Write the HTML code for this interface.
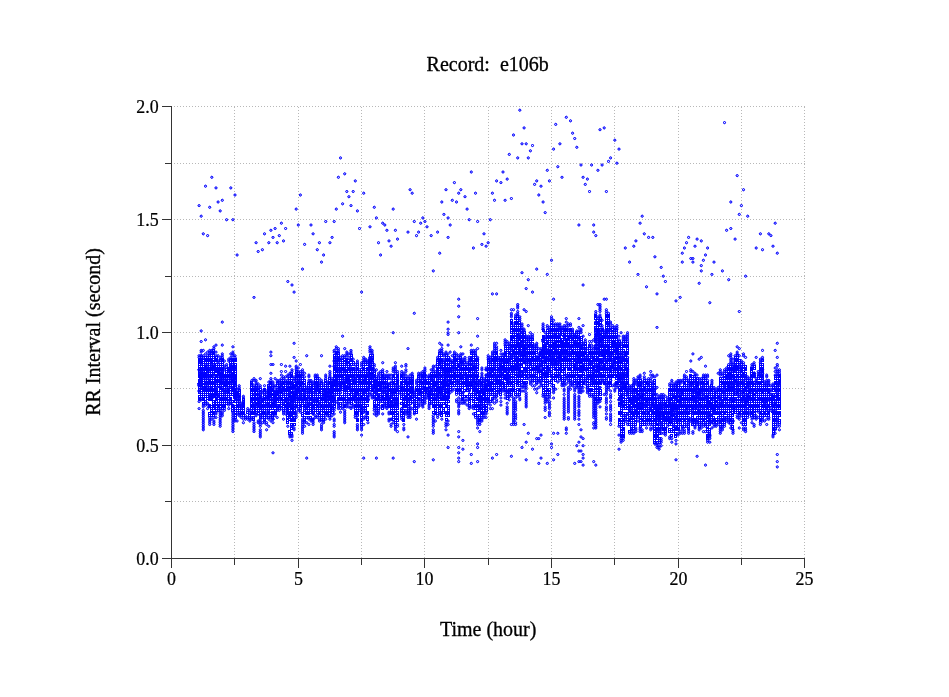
<!DOCTYPE html>
<html lang="en"><head><meta charset="utf-8"><title>Record: e106b</title>
<style>
html,body{margin:0;padding:0;background:#fff}
svg{display:block}
text{font-family:"Liberation Serif",serif;fill:#000}
</style></head><body>
<svg width="949" height="697" viewBox="0 0 949 697">
<defs><marker id="m" markerWidth="4" markerHeight="4" refX="2" refY="2" markerUnits="userSpaceOnUse" viewBox="0 0 4 4"><circle cx="2" cy="2" r="1.05" fill="none" stroke="#00f" stroke-width="0.7"/><circle cx="2" cy="2" r="1.05" fill="none" stroke="#00f" stroke-width="0.7"/></marker><marker id="k" markerWidth="4" markerHeight="4" refX="2" refY="2" markerUnits="userSpaceOnUse" viewBox="0 0 4 4"><circle cx="2" cy="2" r="1.05" fill="none" stroke="#00f" stroke-width="0.7"/><circle cx="2" cy="2" r="1.05" fill="none" stroke="#00f" stroke-width="0.7"/><circle cx="2" cy="2" r="1.05" fill="none" stroke="#00f" stroke-width="0.7"/><circle cx="2" cy="2" r="1.05" fill="none" stroke="#00f" stroke-width="0.7"/></marker><marker id="f" markerWidth="4" markerHeight="4" refX="2" refY="2" markerUnits="userSpaceOnUse" viewBox="0 0 4 4"><circle cx="2" cy="2" r="1.05" fill="none" stroke="#00f" stroke-width="0.7"/><circle cx="2" cy="2" r="1.05" fill="none" stroke="#00f" stroke-width="0.7"/><circle cx="2" cy="2" r="1.05" fill="none" stroke="#00f" stroke-width="0.7"/><circle cx="2" cy="2" r="1.05" fill="none" stroke="#00f" stroke-width="0.7"/><circle cx="2" cy="2" r="1.05" fill="none" stroke="#00f" stroke-width="0.7"/><circle cx="2" cy="2" r="1.05" fill="none" stroke="#00f" stroke-width="0.7"/><circle cx="2" cy="2" r="1.05" fill="none" stroke="#00f" stroke-width="0.7"/><circle cx="2" cy="2" r="1.05" fill="none" stroke="#00f" stroke-width="0.7"/><circle cx="2" cy="2" r="1.05" fill="none" stroke="#00f" stroke-width="0.7"/><circle cx="2" cy="2" r="1.05" fill="none" stroke="#00f" stroke-width="0.7"/></marker><marker id="c" markerWidth="4" markerHeight="4" refX="2" refY="2" markerUnits="userSpaceOnUse" viewBox="0 0 4 4"><path d="M1 1h2v2h-2z" fill="none" stroke="#00f" stroke-width="1" shape-rendering="crispEdges"/></marker></defs>
<rect width="949" height="697" fill="#fff"/>
<g stroke="#b8b8b8" stroke-width="1" stroke-dasharray="1 2" shape-rendering="crispEdges" fill="none">
<path d="M174 106.5H805"/><path d="M174 163.5H805"/><path d="M174 219.5H805"/><path d="M174 276.5H805"/><path d="M174 332.5H805"/><path d="M174 388.5H805"/><path d="M174 445.5H805"/><path d="M174 501.5H805"/><path d="M234.5 107V558"/><path d="M298.5 107V558"/><path d="M361.5 107V558"/><path d="M424.5 107V558"/><path d="M488.5 107V558"/><path d="M551.5 107V558"/><path d="M614.5 107V558"/><path d="M678.5 107V558"/><path d="M741.5 107V558"/><path d="M804.5 107V558"/>
</g>
<g stroke="#343434" stroke-width="1" shape-rendering="crispEdges" fill="none">
<path d="M171.5 106V559M171 558.5H805"/><path d="M162 558.5H172"/><path d="M165 501.5H172"/><path d="M162 445.5H172"/><path d="M165 388.5H172"/><path d="M162 332.5H172"/><path d="M165 276.5H172"/><path d="M162 219.5H172"/><path d="M165 163.5H172"/><path d="M162 106.5H172"/><path d="M171.5 558V568"/><path d="M234.5 558V565"/><path d="M298.5 558V568"/><path d="M361.5 558V565"/><path d="M424.5 558V568"/><path d="M488.5 558V565"/><path d="M551.5 558V568"/><path d="M614.5 558V565"/><path d="M678.5 558V568"/><path d="M741.5 558V565"/><path d="M804.5 558V568"/>
</g>
<g font-size="20" stroke="#000" stroke-width="0.3">
<text x="487.7" y="70.8" text-anchor="middle" xml:space="preserve">Record:  e106b</text>
<text x="488.2" y="635.8" text-anchor="middle">Time (hour)</text>
<text transform="translate(100.1 332) rotate(-90)" text-anchor="middle">RR Interval (second)</text>
</g>
<g font-size="17.9" stroke="#000" stroke-width="0.22">
<text x="158.6" y="565.1" text-anchor="end">0.0</text><text x="158.6" y="452.1" text-anchor="end">0.5</text><text x="158.6" y="339.1" text-anchor="end">1.0</text><text x="158.6" y="226.1" text-anchor="end">1.5</text><text x="158.6" y="113.1" text-anchor="end">2.0</text><text x="171.5" y="585" text-anchor="middle">0</text><text x="298.5" y="585" text-anchor="middle">5</text><text x="424.5" y="585" text-anchor="middle">10</text><text x="551.5" y="585" text-anchor="middle">15</text><text x="678.5" y="585" text-anchor="middle">20</text><text x="804.5" y="585" text-anchor="middle">25</text>
</g>
<g fill="none" stroke="none">
<polyline marker-start="url(#f)" marker-mid="url(#f)" marker-end="url(#f)" points="199.1,383.9 201.2,385.7 201.2,382.1 201.2,380.4 201.2,378.6 201.2,376.8 201.2,373.3 201.2,362.7 203.3,389.2 203.3,375.1 205.5,389.2 205.5,387.4 205.5,380.4 205.5,375.1 205.5,368 207.6,387.4 207.6,369.8 209.7,398 209.7,396.3 209.7,382.1 211.8,398 211.8,396.3 211.8,394.5 211.8,389.2 211.8,361 213.9,394.5 213.9,368 216,394.5 216,391 216,380.4 218.1,371.5 220.2,387.4 220.2,380.4 220.2,373.3 222.3,378.6 222.3,375.1 222.3,369.8 224.4,383.9 224.4,380.4 226.6,387.4 226.6,382.1 228.7,391 228.7,371.5 230.8,376.8 230.8,366.2 232.9,389.2 232.9,380.4 232.9,375.1 232.9,368 235,398 235,396.3 235,394.5 235,391 235,383.9 235,382.1 235,378.6 235,368 237.1,394.5 237.1,392.7 239.2,396.3 243.4,405.1 243.4,403.3 251.9,399.8 254,405.1 258.2,403.3 258.2,394.5 260.3,401.6 262.4,399.8 268.8,405.1 268.8,398 268.8,396.3 268.8,394.5 268.8,392.7 268.8,391 268.8,387.4 270.9,394.5 273,405.1 273,403.3 275.1,401.6 275.1,396.3 277.2,394.5 277.2,392.7 279.3,389.2 281.4,391 281.4,387.4 283.5,401.6 283.5,389.2 285.6,399.8 287.8,412.2 287.8,406.9 287.8,403.3 287.8,387.4 289.9,415.7 289.9,396.3 289.9,387.4 292,408.6 292,401.6 292,392.7 292,387.4 292,383.9 294.1,396.3 294.1,394.5 294.1,387.4 296.2,394.5 296.2,392.7 296.2,385.7 298.3,389.2 300.4,396.3 300.4,383.9 300.4,380.4 304.6,398 304.6,392.7 311,389.2 317.3,399.8 317.3,387.4 317.3,385.7 319.4,391 321.5,394.5 323.6,396.3 323.6,392.7 325.7,399.8 325.7,396.3 325.7,392.7 327.8,396.3 327.8,392.7 329.9,405.1 329.9,396.3 329.9,392.7 329.9,391 332.1,398 332.1,392.7 332.1,389.2 332.1,385.7 334.2,383.9 334.2,382.1 336.3,385.7 336.3,382.1 336.3,376.8 336.3,369.8 336.3,357.4 338.4,371.5 338.4,359.2 340.5,389.2 340.5,383.9 340.5,371.5 340.5,369.8 342.6,380.4 344.7,385.7 344.7,371.5 346.8,387.4 346.8,382.1 346.8,378.6 346.8,362.7 348.9,387.4 348.9,380.4 355.3,396.3 355.3,391 355.3,380.4 357.4,392.7 357.4,391 359.5,376.8 361.6,408.6 361.6,406.9 361.6,398 363.7,392.7 363.7,382.1 365.8,382.1 365.8,376.8 367.9,399.8 370,375.1 370,366.2 370,362.7 370,361 370,359.2 372.1,375.1 372.1,373.3 372.1,359.2 374.3,387.4 374.3,385.7 374.3,382.1 376.4,392.7 376.4,387.4 376.4,385.7 376.4,382.1 378.5,398 378.5,396.3 378.5,383.9 380.6,387.4 380.6,385.7 382.7,398 382.7,378.6 384.8,387.4 386.9,396.3 386.9,394.5 391.1,391 393.2,391 395.4,403.3 395.4,391 397.5,403.3 397.5,385.7 397.5,382.1 397.5,380.4 401.7,389.2 401.7,387.4 403.8,405.1 405.9,398 405.9,382.1 408,399.8 408,394.5 410.1,398 410.1,391 410.1,382.1 412.2,392.7 412.2,387.4 412.2,382.1 418.6,392.7 420.7,392.7 424.9,387.4 424.9,382.1 424.9,375.1 429.1,396.3 429.1,394.5 429.1,387.4 431.2,376.8 433.3,394.5 433.3,383.9 433.3,380.4 435.4,394.5 435.4,383.9 437.6,392.7 437.6,389.2 437.6,387.4 437.6,378.6 437.6,373.3 439.7,394.5 439.7,391 439.7,389.2 439.7,362.7 441.8,391 441.8,387.4 443.9,396.3 443.9,383.9 443.9,380.4 443.9,369.8 446,382.1 446,376.8 448.1,398 448.1,396.3 448.1,392.7 448.1,391 448.1,385.7 448.1,371.5 450.2,380.4 450.2,369.8 454.4,376.8 454.4,375.1 454.4,371.5 454.4,362.7 454.4,359.2 458.7,366.2 460.8,378.6 460.8,375.1 460.8,362.7 460.8,361 467.1,385.7 467.1,382.1 467.1,376.8 469.2,383.9 469.2,369.8 471.3,383.9 471.3,364.5 471.3,359.2 473.4,385.7 473.4,380.4 473.4,368 473.4,364.5 475.5,392.7 475.5,385.7 475.5,378.6 475.5,371.5 477.6,391 477.6,380.4 477.6,376.8 479.8,408.6 479.8,398 479.8,392.7 481.9,399.8 481.9,398 484,394.5 484,392.7 484,389.2 486.1,389.2 486.1,385.7 488.2,383.9 490.3,385.7 490.3,373.3 492.4,369.8 494.5,378.6 494.5,359.2 496.6,382.1 496.6,359.2 498.7,382.1 498.7,371.5 500.9,383.9 500.9,382.1 500.9,366.2 503,368 505.1,376.8 505.1,371.5 505.1,361 505.1,353.9 507.2,380.4 507.2,378.6 507.2,375.1 507.2,361 509.3,376.8 509.3,369.8 511.4,369.8 511.4,368 511.4,357.4 511.4,348.6 511.4,338 513.5,368 513.5,357.4 513.5,352.1 515.6,366.2 515.6,357.4 515.6,346.8 517.7,368 517.7,366.2 517.7,361 517.7,345.1 517.7,336.2 517.7,334.5 519.8,371.5 519.8,364.5 519.8,352.1 519.8,346.8 519.8,345.1 519.8,338 522,341.5 524.1,355.7 524.1,352.1 524.1,346.8 526.2,369.8 526.2,348.6 530.4,362.7 532.5,364.5 532.5,359.2 532.5,350.4 536.7,368 536.7,357.4 538.8,371.5 543.1,357.4 543.1,353.9 543.1,350.4 543.1,339.8 545.2,373.3 545.2,361 545.2,357.4 545.2,348.6 547.3,375.1 547.3,373.3 547.3,368 547.3,350.4 547.3,343.3 549.4,357.4 549.4,353.9 549.4,352.1 551.5,362.7 551.5,357.4 551.5,352.1 553.6,364.5 553.6,362.7 553.6,355.7 553.6,346.8 553.6,345.1 553.6,341.5 555.7,364.5 555.7,361 555.7,352.1 555.7,350.4 555.7,345.1 555.7,341.5 555.7,336.2 557.8,357.4 557.8,341.5 559.9,355.7 562,346.8 562,345.1 562,341.5 564.2,359.2 564.2,352.1 564.2,350.4 564.2,345.1 564.2,336.2 566.3,357.4 566.3,352.1 566.3,345.1 566.3,339.8 568.4,345.1 568.4,338 570.5,334.5 572.6,352.1 574.7,368 574.7,366.2 574.7,343.3 576.8,362.7 576.8,353.9 576.8,345.1 576.8,343.3 578.9,357.4 578.9,353.9 578.9,345.1 581,369.8 581,368 581,362.7 581,348.6 581,346.8 583.1,369.8 583.1,366.2 583.1,355.7 583.1,353.9 585.3,348.6 587.4,357.4 589.5,362.7 591.6,376.8 591.6,371.5 591.6,362.7 593.7,380.4 593.7,375.1 593.7,368 593.7,359.2 595.8,371.5 595.8,348.6 595.8,339.8 595.8,334.5 597.9,371.5 597.9,368 597.9,366.2 597.9,359.2 597.9,332.7 597.9,330.9 600,362.7 600,341.5 600,339.8 600,338 600,334.5 602.1,353.9 602.1,352.1 602.1,339.8 604.2,366.2 604.2,355.7 604.2,350.4 606.4,352.1 606.4,334.5 606.4,330.9 608.5,352.1 608.5,346.8 610.6,369.8 610.6,368 610.6,355.7 612.7,366.2 612.7,345.1 612.7,343.3 612.7,341.5 614.8,362.7 614.8,359.2 614.8,350.4 614.8,343.3 616.9,357.4 616.9,352.1 616.9,348.6 616.9,346.8 619,376.8 619,375.1 619,368 619,361 619,357.4 621.1,403.3 621.1,398 621.1,396.3 621.1,378.6 621.1,361 623.2,401.6 623.2,387.4 623.2,376.8 623.2,357.4 625.3,387.4 625.3,385.7 625.3,353.9 627.5,375.1 627.5,369.8 629.6,417.5 629.6,410.4 629.6,408.6 629.6,399.8 631.7,403.3 633.8,413.9 633.8,401.6 633.8,398 635.9,410.4 635.9,398 638,394.5 640.1,408.6 640.1,403.3 640.1,385.7 642.2,406.9 642.2,405.1 642.2,403.3 642.2,396.3 644.3,394.5 644.3,389.2 646.5,403.3 646.5,399.8 650.7,410.4 652.8,398 652.8,394.5 652.8,389.2 654.9,406.9 657,424.5 657,410.4 659.1,415.7 659.1,413.9 659.1,412.2 659.1,408.6 659.1,406.9 661.2,406.9 663.3,415.7 663.3,413.9 665.4,419.2 665.4,408.6 665.4,405.1 667.5,415.7 669.7,421 669.7,419.2 669.7,403.3 671.8,421 671.8,415.7 671.8,413.9 671.8,410.4 671.8,406.9 673.9,408.6 673.9,396.3 676,408.6 676,398 678.1,406.9 680.2,401.6 680.2,396.3 682.3,392.7 686.5,408.6 686.5,406.9 686.5,394.5 692.9,406.9 692.9,398 695,398 697.1,392.7 697.1,385.7 699.2,410.4 699.2,405.1 699.2,394.5 699.2,392.7 703.4,387.4 705.5,394.5 707.6,415.7 707.6,406.9 707.6,403.3 707.6,401.6 707.6,398 709.8,415.7 709.8,413.9 709.8,403.3 711.9,408.6 714,410.4 714,408.6 716.1,401.6 722.4,403.3 724.5,385.7 726.6,376.8 728.7,387.4 728.7,385.7 728.7,376.8 728.7,375.1 730.8,389.2 730.8,376.8 730.8,375.1 733,406.9 733,401.6 733,399.8 733,387.4 733,383.9 735.1,380.4 735.1,369.8 735.1,366.2 737.2,391 737.2,383.9 737.2,368 741.4,369.8 743.5,398 743.5,391 743.5,375.1 745.6,408.6 745.6,403.3 745.6,401.6 745.6,389.2 747.7,399.8 747.7,398 747.7,396.3 747.7,385.7 749.8,391 754.1,394.5 754.1,375.1 754.1,373.3 760.4,373.3 762.5,399.8 762.5,391 762.5,380.4 762.5,373.3 762.5,369.8 764.6,403.3 766.7,399.8 768.8,391 773,412.2 773,396.3 777.3,396.3 779.4,382.1"/>
<polyline marker-start="url(#k)" marker-mid="url(#k)" marker-end="url(#k)" points="199.1,391 199.1,385.7 199.1,369.8 201.2,371.5 201.2,355.7 203.3,376.8 203.3,369.8 205.5,366.2 207.6,376.8 207.6,375.1 207.6,366.2 209.7,376.8 209.7,369.8 211.8,366.2 211.8,364.5 213.9,375.1 216,387.4 216,382.1 218.1,396.3 218.1,394.5 218.1,375.1 222.3,389.2 224.4,396.3 224.4,391 226.6,391 226.6,383.9 226.6,380.4 226.6,378.6 228.7,369.8 230.8,403.3 230.8,387.4 230.8,382.1 230.8,373.3 232.9,382.1 232.9,378.6 232.9,376.8 232.9,366.2 235,389.2 237.1,399.8 239.2,405.1 239.2,399.8 241.3,406.9 245.5,417.5 251.9,383.9 254,406.9 254,394.5 256.1,405.1 256.1,387.4 260.3,415.7 260.3,406.9 260.3,405.1 260.3,398 260.3,396.3 260.3,392.7 262.4,408.6 264.5,392.7 266.6,405.1 266.6,398 268.8,412.2 270.9,387.4 273,419.2 273,399.8 275.1,403.3 275.1,392.7 275.1,391 277.2,406.9 279.3,398 279.3,392.7 279.3,391 279.3,387.4 281.4,383.9 283.5,392.7 287.8,405.1 287.8,394.5 289.9,399.8 289.9,392.7 292,426.3 292,403.3 294.1,406.9 294.1,401.6 294.1,389.2 296.2,398 296.2,380.4 296.2,373.3 298.3,391 298.3,378.6 300.4,391 300.4,385.7 302.5,399.8 302.5,396.3 302.5,385.7 304.6,408.6 306.7,406.9 306.7,403.3 308.9,403.3 308.9,398 308.9,392.7 308.9,389.2 313.1,419.2 313.1,413.9 313.1,408.6 313.1,401.6 313.1,399.8 315.2,399.8 315.2,392.7 317.3,401.6 319.4,405.1 319.4,401.6 319.4,385.7 323.6,406.9 323.6,394.5 327.8,399.8 327.8,389.2 332.1,406.9 332.1,401.6 332.1,391 334.2,401.6 334.2,396.3 334.2,380.4 334.2,366.2 334.2,361 336.3,366.2 336.3,361 338.4,403.3 338.4,383.9 338.4,380.4 338.4,369.8 338.4,364.5 338.4,362.7 340.5,392.7 342.6,387.4 344.7,389.2 344.7,378.6 344.7,369.8 346.8,389.2 348.9,383.9 351,391 351,389.2 351,369.8 351,368 353.2,380.4 353.2,378.6 355.3,399.8 355.3,394.5 355.3,376.8 357.4,415.7 357.4,403.3 359.5,403.3 359.5,396.3 359.5,382.1 363.7,412.2 363.7,378.6 367.9,398 367.9,396.3 367.9,387.4 367.9,373.3 370,378.6 370,357.4 372.1,378.6 372.1,361 374.3,398 374.3,391 374.3,378.6 374.3,369.8 380.6,394.5 382.7,391 384.8,391 386.9,391 386.9,383.9 389,383.9 391.1,419.2 391.1,403.3 391.1,401.6 391.1,396.3 393.2,401.6 393.2,394.5 395.4,405.1 395.4,394.5 395.4,385.7 397.5,405.1 401.7,408.6 401.7,394.5 408,412.2 408,383.9 412.2,378.6 414.3,403.3 414.3,396.3 418.6,380.4 420.7,382.1 422.8,387.4 422.8,378.6 427,389.2 429.1,392.7 429.1,391 431.2,392.7 433.3,389.2 433.3,387.4 435.4,396.3 437.6,398 437.6,396.3 439.7,375.1 439.7,364.5 441.8,396.3 441.8,368 443.9,387.4 443.9,375.1 446,375.1 448.1,383.9 448.1,373.3 448.1,364.5 452.3,368 454.4,368 456.5,382.1 456.5,371.5 458.7,382.1 460.8,376.8 462.9,392.7 462.9,364.5 465,375.1 469.2,391 473.4,382.1 473.4,376.8 473.4,375.1 473.4,362.7 475.5,369.8 475.5,368 475.5,366.2 477.6,383.9 477.6,364.5 477.6,359.2 479.8,401.6 479.8,399.8 479.8,396.3 481.9,405.1 481.9,385.7 486.1,380.4 486.1,375.1 486.1,369.8 488.2,401.6 488.2,382.1 488.2,380.4 492.4,394.5 494.5,375.1 494.5,366.2 494.5,361 496.6,396.3 496.6,376.8 498.7,364.5 500.9,373.3 500.9,362.7 503,375.1 503,369.8 505.1,391 507.2,391 507.2,369.8 509.3,396.3 509.3,391 509.3,382.1 509.3,362.7 511.4,355.7 513.5,387.4 513.5,369.8 515.6,341.5 517.7,382.1 517.7,373.3 517.7,359.2 517.7,339.8 519.8,373.3 519.8,353.9 522,355.7 522,353.9 522,352.1 522,343.3 522,332.7 524.1,371.5 524.1,362.7 524.1,361 524.1,350.4 524.1,341.5 526.2,362.7 526.2,359.2 526.2,355.7 526.2,345.1 530.4,345.1 534.6,371.5 536.7,380.4 538.8,366.2 538.8,359.2 541,369.8 541,366.2 541,364.5 541,361 541,355.7 543.1,375.1 543.1,361 543.1,341.5 543.1,329.2 547.3,359.2 549.4,369.8 549.4,350.4 551.5,376.8 551.5,361 551.5,359.2 551.5,355.7 553.6,336.2 555.7,346.8 557.8,361 559.9,375.1 559.9,362.7 559.9,334.5 559.9,329.2 562,343.3 564.2,355.7 568.4,353.9 568.4,350.4 570.5,362.7 570.5,353.9 570.5,346.8 570.5,336.2 572.6,341.5 572.6,338 574.7,345.1 574.7,336.2 576.8,359.2 578.9,338 581,371.5 585.3,380.4 585.3,369.8 587.4,387.4 587.4,376.8 589.5,345.1 591.6,382.1 591.6,357.4 591.6,355.7 593.7,376.8 595.8,366.2 595.8,345.1 595.8,336.2 595.8,332.7 595.8,329.2 595.8,322.1 597.9,350.4 597.9,345.1 597.9,341.5 597.9,336.2 600,387.4 600,373.3 600,366.2 600,352.1 600,330.9 600,320.3 602.1,362.7 602.1,361 602.1,355.7 602.1,343.3 604.2,359.2 604.2,346.8 606.4,380.4 606.4,361 606.4,336.2 608.5,357.4 608.5,355.7 608.5,353.9 608.5,339.8 608.5,330.9 608.5,323.9 610.6,380.4 612.7,361 619,399.8 619,380.4 619,353.9 619,343.3 621.1,405.1 621.1,385.7 621.1,375.1 621.1,353.9 623.2,394.5 623.2,380.4 623.2,375.1 623.2,373.3 625.3,415.7 625.3,389.2 625.3,383.9 625.3,375.1 625.3,366.2 627.5,413.9 627.5,396.3 627.5,392.7 627.5,391 627.5,389.2 627.5,378.6 627.5,371.5 627.5,364.5 627.5,361 627.5,357.4 631.7,399.8 633.8,392.7 633.8,383.9 638,385.7 640.1,406.9 640.1,398 640.1,396.3 642.2,394.5 642.2,392.7 644.3,405.1 646.5,412.2 646.5,391 648.6,408.6 648.6,403.3 648.6,383.9 650.7,406.9 652.8,405.1 652.8,403.3 652.8,399.8 652.8,392.7 654.9,394.5 654.9,389.2 657,419.2 659.1,431.6 659.1,417.5 659.1,405.1 661.2,424.5 661.2,422.7 661.2,417.5 661.2,412.2 661.2,403.3 663.3,419.2 663.3,405.1 669.7,410.4 669.7,394.5 673.9,426.3 673.9,413.9 673.9,403.3 676,419.2 676,417.5 676,413.9 676,410.4 678.1,396.3 678.1,392.7 680.2,403.3 684.4,412.2 684.4,403.3 688.6,422.7 688.6,417.5 688.6,410.4 688.6,399.8 688.6,385.7 690.8,385.7 692.9,422.7 692.9,412.2 692.9,408.6 692.9,399.8 692.9,396.3 692.9,392.7 695,401.6 695,387.4 695,382.1 697.1,421 697.1,406.9 697.1,401.6 697.1,398 697.1,394.5 697.1,389.2 699.2,396.3 701.3,392.7 703.4,408.6 703.4,406.9 703.4,396.3 703.4,392.7 705.5,422.7 705.5,398 707.6,436.9 707.6,431.6 707.6,394.5 709.8,435.1 709.8,422.7 714,398 718.2,406.9 718.2,398 720.3,421 720.3,403.3 720.3,396.3 722.4,391 724.5,419.2 724.5,417.5 724.5,396.3 724.5,391 724.5,387.4 726.6,405.1 730.8,401.6 730.8,378.6 730.8,371.5 733,421 735.1,406.9 735.1,399.8 737.2,394.5 737.2,392.7 737.2,389.2 737.2,380.4 739.3,396.3 739.3,383.9 739.3,366.2 741.4,399.8 741.4,392.7 741.4,371.5 741.4,368 743.5,399.8 743.5,392.7 743.5,383.9 743.5,382.1 745.6,396.3 745.6,378.6 745.6,376.8 749.8,398 749.8,392.7 749.8,389.2 756.2,391 756.2,382.1 762.5,417.5 766.7,410.4 766.7,406.9 768.8,399.8 770.9,394.5 775.2,410.4 775.2,405.1 775.2,403.3 777.3,392.7 777.3,387.4 777.3,383.9 779.4,383.9"/>
<polyline marker-start="url(#c)" marker-mid="url(#c)" marker-end="url(#c)" points="199.5,399.5 199.5,398.5 199.5,396.5 199.5,392.5 199.5,389.5 199.5,387.5 199.5,382.5 199.5,380.5 199.5,376.5 199.5,375.5 199.5,373.5 199.5,371.5 199.5,368.5 199.5,366.5 199.5,364.5 199.5,362.5 199.5,360.5 199.5,359.5 201.5,398.5 201.5,396.5 201.5,394.5 201.5,392.5 201.5,390.5 201.5,387.5 201.5,383.5 201.5,375.5 201.5,369.5 201.5,368.5 201.5,366.5 201.5,364.5 201.5,360.5 201.5,359.5 201.5,357.5 203.5,403.5 203.5,399.5 203.5,398.5 203.5,394.5 203.5,392.5 203.5,390.5 203.5,387.5 203.5,385.5 203.5,382.5 203.5,380.5 203.5,378.5 203.5,373.5 203.5,371.5 203.5,368.5 203.5,366.5 203.5,364.5 203.5,362.5 203.5,360.5 205.5,401.5 205.5,396.5 205.5,392.5 205.5,390.5 205.5,385.5 205.5,383.5 205.5,382.5 205.5,378.5 205.5,376.5 205.5,373.5 205.5,371.5 205.5,369.5 205.5,364.5 205.5,362.5 205.5,360.5 205.5,359.5 205.5,357.5 207.5,398.5 207.5,396.5 207.5,394.5 207.5,392.5 207.5,390.5 207.5,389.5 207.5,385.5 207.5,383.5 207.5,382.5 207.5,380.5 207.5,378.5 207.5,373.5 207.5,371.5 207.5,368.5 207.5,364.5 207.5,362.5 207.5,360.5 207.5,359.5 209.5,415.5 209.5,413.5 209.5,406.5 209.5,405.5 209.5,399.5 209.5,394.5 209.5,390.5 209.5,389.5 209.5,387.5 209.5,383.5 209.5,380.5 209.5,375.5 209.5,373.5 209.5,371.5 209.5,368.5 209.5,366.5 209.5,364.5 209.5,362.5 209.5,360.5 209.5,359.5 209.5,357.5 209.5,355.5 211.5,415.5 211.5,413.5 211.5,410.5 211.5,408.5 211.5,406.5 211.5,399.5 211.5,392.5 211.5,390.5 211.5,385.5 211.5,383.5 211.5,382.5 211.5,380.5 211.5,378.5 211.5,376.5 211.5,375.5 211.5,373.5 211.5,371.5 211.5,369.5 211.5,368.5 211.5,362.5 211.5,359.5 211.5,357.5 211.5,355.5 211.5,353.5 213.5,415.5 213.5,413.5 213.5,412.5 213.5,408.5 213.5,406.5 213.5,405.5 213.5,403.5 213.5,401.5 213.5,396.5 213.5,392.5 213.5,390.5 213.5,389.5 213.5,387.5 213.5,385.5 213.5,383.5 213.5,382.5 213.5,380.5 213.5,378.5 213.5,373.5 213.5,371.5 213.5,369.5 213.5,366.5 213.5,364.5 213.5,362.5 213.5,359.5 213.5,357.5 213.5,355.5 213.5,353.5 213.5,352.5 213.5,350.5 216.5,410.5 216.5,408.5 216.5,406.5 216.5,403.5 216.5,401.5 216.5,399.5 216.5,398.5 216.5,396.5 216.5,392.5 216.5,389.5 216.5,385.5 216.5,383.5 216.5,378.5 216.5,376.5 216.5,375.5 216.5,371.5 216.5,369.5 216.5,368.5 216.5,366.5 216.5,364.5 216.5,360.5 216.5,359.5 216.5,357.5 218.5,410.5 218.5,408.5 218.5,406.5 218.5,405.5 218.5,403.5 218.5,398.5 218.5,392.5 218.5,385.5 218.5,383.5 218.5,380.5 218.5,378.5 218.5,376.5 218.5,373.5 218.5,369.5 218.5,368.5 218.5,366.5 218.5,364.5 220.5,406.5 220.5,403.5 220.5,401.5 220.5,399.5 220.5,398.5 220.5,396.5 220.5,394.5 220.5,392.5 220.5,390.5 220.5,385.5 220.5,383.5 220.5,382.5 220.5,378.5 220.5,376.5 220.5,375.5 220.5,371.5 220.5,369.5 220.5,368.5 220.5,364.5 220.5,360.5 222.5,408.5 222.5,406.5 222.5,405.5 222.5,403.5 222.5,401.5 222.5,399.5 222.5,398.5 222.5,396.5 222.5,394.5 222.5,392.5 222.5,390.5 222.5,387.5 222.5,385.5 222.5,383.5 222.5,382.5 222.5,380.5 222.5,376.5 222.5,373.5 222.5,371.5 222.5,368.5 222.5,366.5 222.5,364.5 222.5,362.5 222.5,360.5 222.5,359.5 224.5,406.5 224.5,405.5 224.5,403.5 224.5,401.5 224.5,399.5 224.5,398.5 224.5,394.5 224.5,392.5 224.5,389.5 224.5,385.5 224.5,382.5 224.5,378.5 224.5,376.5 224.5,375.5 226.5,403.5 226.5,401.5 226.5,399.5 226.5,398.5 226.5,396.5 226.5,394.5 226.5,392.5 226.5,389.5 226.5,385.5 226.5,376.5 226.5,375.5 226.5,373.5 226.5,371.5 226.5,369.5 228.5,401.5 228.5,398.5 228.5,396.5 228.5,394.5 228.5,392.5 228.5,389.5 228.5,387.5 228.5,385.5 228.5,383.5 228.5,382.5 228.5,380.5 228.5,378.5 228.5,376.5 228.5,375.5 228.5,373.5 228.5,368.5 230.5,399.5 230.5,398.5 230.5,394.5 230.5,389.5 230.5,385.5 230.5,383.5 230.5,380.5 230.5,378.5 230.5,375.5 230.5,371.5 230.5,369.5 230.5,368.5 230.5,364.5 230.5,362.5 230.5,360.5 232.5,410.5 232.5,408.5 232.5,406.5 232.5,405.5 232.5,401.5 232.5,394.5 232.5,392.5 232.5,387.5 232.5,385.5 232.5,383.5 232.5,373.5 232.5,371.5 232.5,369.5 232.5,364.5 232.5,362.5 232.5,360.5 232.5,359.5 235.5,417.5 235.5,415.5 235.5,412.5 235.5,410.5 235.5,408.5 235.5,406.5 235.5,401.5 235.5,387.5 235.5,385.5 235.5,380.5 235.5,376.5 235.5,375.5 235.5,373.5 235.5,371.5 235.5,369.5 235.5,366.5 235.5,364.5 235.5,360.5 235.5,359.5 237.5,410.5 237.5,408.5 237.5,406.5 237.5,405.5 237.5,403.5 237.5,401.5 237.5,398.5 237.5,396.5 239.5,412.5 239.5,410.5 239.5,408.5 239.5,406.5 239.5,401.5 239.5,398.5 239.5,394.5 239.5,392.5 239.5,390.5 241.5,413.5 241.5,412.5 241.5,410.5 243.5,415.5 243.5,413.5 243.5,412.5 243.5,410.5 243.5,408.5 243.5,406.5 243.5,401.5 243.5,399.5 247.5,412.5 249.5,417.5 249.5,415.5 251.5,413.5 251.5,412.5 251.5,408.5 251.5,406.5 251.5,405.5 251.5,403.5 251.5,401.5 251.5,398.5 251.5,396.5 251.5,394.5 251.5,392.5 251.5,390.5 251.5,389.5 251.5,387.5 251.5,385.5 251.5,382.5 253.5,419.5 253.5,417.5 253.5,413.5 253.5,412.5 253.5,410.5 253.5,408.5 253.5,401.5 253.5,399.5 253.5,398.5 253.5,396.5 253.5,392.5 253.5,390.5 253.5,389.5 256.5,412.5 256.5,410.5 256.5,408.5 256.5,406.5 256.5,403.5 256.5,401.5 256.5,399.5 256.5,398.5 256.5,396.5 256.5,394.5 256.5,392.5 256.5,390.5 256.5,389.5 256.5,385.5 258.5,413.5 258.5,410.5 258.5,408.5 258.5,406.5 258.5,405.5 258.5,401.5 258.5,399.5 258.5,398.5 258.5,396.5 258.5,392.5 258.5,390.5 260.5,417.5 260.5,412.5 260.5,410.5 260.5,408.5 260.5,403.5 260.5,399.5 260.5,394.5 260.5,389.5 262.5,413.5 262.5,412.5 262.5,410.5 262.5,406.5 262.5,405.5 262.5,403.5 262.5,401.5 264.5,419.5 264.5,417.5 264.5,415.5 264.5,413.5 264.5,412.5 264.5,410.5 264.5,408.5 264.5,406.5 264.5,405.5 264.5,403.5 264.5,401.5 264.5,399.5 264.5,398.5 264.5,396.5 264.5,394.5 264.5,390.5 264.5,389.5 266.5,408.5 266.5,406.5 266.5,403.5 266.5,399.5 266.5,396.5 268.5,417.5 268.5,413.5 268.5,410.5 268.5,408.5 268.5,406.5 268.5,403.5 268.5,401.5 268.5,399.5 268.5,389.5 268.5,385.5 270.5,413.5 270.5,408.5 270.5,406.5 270.5,405.5 270.5,403.5 270.5,401.5 270.5,398.5 270.5,396.5 270.5,392.5 270.5,390.5 270.5,389.5 270.5,385.5 270.5,383.5 270.5,382.5 272.5,417.5 272.5,415.5 272.5,413.5 272.5,412.5 272.5,408.5 272.5,406.5 272.5,401.5 272.5,398.5 272.5,396.5 272.5,394.5 272.5,392.5 272.5,390.5 272.5,389.5 272.5,387.5 275.5,413.5 275.5,412.5 275.5,410.5 275.5,406.5 275.5,405.5 275.5,399.5 275.5,398.5 275.5,394.5 277.5,408.5 277.5,405.5 277.5,401.5 277.5,399.5 277.5,398.5 277.5,396.5 277.5,389.5 277.5,385.5 277.5,383.5 279.5,408.5 279.5,406.5 279.5,405.5 279.5,401.5 279.5,399.5 279.5,396.5 279.5,394.5 279.5,385.5 281.5,405.5 281.5,403.5 281.5,401.5 281.5,399.5 281.5,398.5 281.5,396.5 281.5,394.5 281.5,392.5 281.5,389.5 281.5,385.5 281.5,382.5 283.5,410.5 283.5,408.5 283.5,406.5 283.5,403.5 283.5,398.5 283.5,396.5 283.5,394.5 283.5,390.5 283.5,387.5 283.5,385.5 283.5,383.5 283.5,382.5 285.5,406.5 285.5,405.5 285.5,403.5 285.5,401.5 285.5,398.5 285.5,396.5 285.5,394.5 285.5,392.5 285.5,390.5 285.5,389.5 285.5,387.5 285.5,385.5 285.5,383.5 287.5,422.5 287.5,420.5 287.5,417.5 287.5,415.5 287.5,413.5 287.5,410.5 287.5,408.5 287.5,401.5 287.5,399.5 287.5,398.5 287.5,396.5 287.5,392.5 287.5,390.5 287.5,389.5 287.5,385.5 287.5,383.5 287.5,382.5 289.5,433.5 289.5,431.5 289.5,419.5 289.5,417.5 289.5,413.5 289.5,412.5 289.5,408.5 289.5,406.5 289.5,405.5 289.5,403.5 289.5,401.5 289.5,398.5 289.5,394.5 289.5,390.5 289.5,389.5 289.5,385.5 289.5,383.5 289.5,382.5 289.5,380.5 289.5,378.5 291.5,433.5 291.5,428.5 291.5,424.5 291.5,420.5 291.5,419.5 291.5,417.5 291.5,415.5 291.5,413.5 291.5,412.5 291.5,410.5 291.5,406.5 291.5,405.5 291.5,399.5 291.5,398.5 291.5,396.5 291.5,394.5 291.5,390.5 291.5,385.5 291.5,380.5 291.5,376.5 291.5,375.5 291.5,373.5 294.5,424.5 294.5,420.5 294.5,419.5 294.5,417.5 294.5,413.5 294.5,412.5 294.5,410.5 294.5,408.5 294.5,405.5 294.5,403.5 294.5,399.5 294.5,398.5 294.5,392.5 294.5,385.5 294.5,383.5 296.5,406.5 296.5,405.5 296.5,403.5 296.5,401.5 296.5,399.5 296.5,396.5 296.5,390.5 296.5,389.5 296.5,387.5 296.5,383.5 296.5,382.5 296.5,378.5 296.5,376.5 296.5,375.5 296.5,371.5 298.5,406.5 298.5,401.5 298.5,399.5 298.5,398.5 298.5,396.5 298.5,394.5 298.5,392.5 298.5,387.5 298.5,383.5 298.5,382.5 298.5,380.5 298.5,376.5 298.5,375.5 300.5,408.5 300.5,406.5 300.5,405.5 300.5,403.5 300.5,401.5 300.5,399.5 300.5,398.5 300.5,394.5 300.5,392.5 300.5,389.5 300.5,387.5 300.5,382.5 300.5,378.5 300.5,376.5 300.5,375.5 302.5,415.5 302.5,413.5 302.5,405.5 302.5,403.5 302.5,401.5 302.5,398.5 302.5,394.5 302.5,392.5 302.5,390.5 302.5,389.5 302.5,387.5 302.5,383.5 302.5,382.5 302.5,380.5 302.5,378.5 302.5,376.5 304.5,419.5 304.5,417.5 304.5,412.5 304.5,410.5 304.5,406.5 304.5,405.5 304.5,403.5 304.5,401.5 304.5,399.5 304.5,396.5 304.5,394.5 304.5,390.5 304.5,389.5 304.5,387.5 304.5,385.5 304.5,382.5 304.5,380.5 306.5,413.5 306.5,412.5 306.5,410.5 306.5,408.5 306.5,405.5 306.5,401.5 306.5,399.5 306.5,398.5 306.5,396.5 306.5,394.5 306.5,392.5 306.5,390.5 308.5,417.5 308.5,413.5 308.5,412.5 308.5,410.5 308.5,406.5 308.5,405.5 308.5,401.5 308.5,399.5 308.5,396.5 308.5,394.5 308.5,390.5 308.5,387.5 308.5,385.5 308.5,383.5 310.5,417.5 310.5,412.5 310.5,410.5 310.5,408.5 310.5,406.5 310.5,403.5 310.5,399.5 310.5,398.5 310.5,396.5 310.5,394.5 310.5,392.5 310.5,390.5 310.5,387.5 310.5,385.5 310.5,383.5 313.5,412.5 313.5,410.5 313.5,406.5 313.5,405.5 313.5,403.5 313.5,398.5 313.5,396.5 313.5,394.5 313.5,392.5 313.5,390.5 313.5,387.5 313.5,385.5 315.5,410.5 315.5,408.5 315.5,406.5 315.5,403.5 315.5,401.5 315.5,398.5 315.5,396.5 315.5,390.5 315.5,389.5 315.5,387.5 315.5,385.5 315.5,383.5 315.5,382.5 315.5,380.5 315.5,378.5 317.5,412.5 317.5,408.5 317.5,406.5 317.5,405.5 317.5,403.5 317.5,398.5 317.5,396.5 317.5,394.5 317.5,392.5 317.5,390.5 317.5,389.5 317.5,383.5 317.5,382.5 317.5,380.5 317.5,378.5 319.5,415.5 319.5,413.5 319.5,412.5 319.5,410.5 319.5,408.5 319.5,403.5 319.5,399.5 319.5,396.5 319.5,394.5 319.5,392.5 319.5,389.5 319.5,387.5 321.5,419.5 321.5,417.5 321.5,415.5 321.5,410.5 321.5,408.5 321.5,406.5 321.5,405.5 321.5,403.5 321.5,401.5 321.5,399.5 321.5,398.5 321.5,396.5 321.5,392.5 321.5,390.5 321.5,387.5 321.5,385.5 321.5,383.5 323.5,419.5 323.5,417.5 323.5,415.5 323.5,413.5 323.5,410.5 323.5,408.5 323.5,405.5 323.5,403.5 323.5,401.5 323.5,399.5 323.5,398.5 323.5,390.5 323.5,389.5 323.5,387.5 325.5,413.5 325.5,412.5 325.5,410.5 325.5,406.5 325.5,405.5 325.5,403.5 325.5,401.5 325.5,398.5 325.5,394.5 325.5,390.5 325.5,389.5 325.5,387.5 325.5,385.5 325.5,383.5 325.5,380.5 327.5,413.5 327.5,412.5 327.5,410.5 327.5,408.5 327.5,406.5 327.5,405.5 327.5,403.5 327.5,401.5 327.5,398.5 327.5,394.5 327.5,390.5 327.5,387.5 327.5,385.5 329.5,415.5 329.5,413.5 329.5,410.5 329.5,408.5 329.5,406.5 329.5,401.5 329.5,399.5 329.5,398.5 329.5,394.5 329.5,389.5 329.5,387.5 329.5,385.5 329.5,383.5 329.5,382.5 329.5,380.5 329.5,378.5 332.5,412.5 332.5,410.5 332.5,408.5 332.5,405.5 332.5,403.5 332.5,399.5 332.5,396.5 332.5,394.5 332.5,387.5 332.5,383.5 332.5,382.5 334.5,406.5 334.5,403.5 334.5,399.5 334.5,398.5 334.5,394.5 334.5,392.5 334.5,390.5 334.5,389.5 334.5,387.5 334.5,385.5 334.5,378.5 334.5,376.5 334.5,375.5 334.5,373.5 334.5,371.5 334.5,369.5 334.5,368.5 334.5,364.5 334.5,362.5 334.5,359.5 334.5,357.5 334.5,355.5 336.5,394.5 336.5,392.5 336.5,390.5 336.5,389.5 336.5,387.5 336.5,383.5 336.5,380.5 336.5,378.5 336.5,375.5 336.5,373.5 336.5,371.5 336.5,368.5 336.5,364.5 336.5,362.5 336.5,359.5 336.5,355.5 336.5,353.5 336.5,352.5 338.5,399.5 338.5,398.5 338.5,394.5 338.5,392.5 338.5,390.5 338.5,389.5 338.5,387.5 338.5,385.5 338.5,382.5 338.5,378.5 338.5,376.5 338.5,375.5 338.5,373.5 338.5,368.5 338.5,366.5 338.5,360.5 338.5,357.5 338.5,355.5 338.5,353.5 340.5,405.5 340.5,403.5 340.5,399.5 340.5,398.5 340.5,396.5 340.5,387.5 340.5,385.5 340.5,382.5 340.5,380.5 340.5,378.5 340.5,376.5 340.5,375.5 340.5,373.5 340.5,366.5 340.5,364.5 340.5,362.5 340.5,360.5 342.5,399.5 342.5,398.5 342.5,396.5 342.5,389.5 342.5,385.5 342.5,383.5 342.5,382.5 342.5,378.5 342.5,376.5 342.5,375.5 342.5,373.5 342.5,371.5 342.5,369.5 342.5,368.5 342.5,364.5 342.5,362.5 342.5,360.5 344.5,406.5 344.5,405.5 344.5,401.5 344.5,399.5 344.5,398.5 344.5,396.5 344.5,394.5 344.5,392.5 344.5,390.5 344.5,387.5 344.5,383.5 344.5,382.5 344.5,380.5 344.5,376.5 344.5,373.5 344.5,368.5 344.5,366.5 344.5,364.5 344.5,362.5 344.5,359.5 346.5,401.5 346.5,398.5 346.5,396.5 346.5,394.5 346.5,392.5 346.5,390.5 346.5,380.5 346.5,376.5 346.5,375.5 346.5,373.5 346.5,371.5 346.5,368.5 346.5,366.5 346.5,364.5 346.5,360.5 346.5,359.5 348.5,399.5 348.5,398.5 348.5,394.5 348.5,390.5 348.5,385.5 348.5,382.5 348.5,378.5 348.5,376.5 348.5,375.5 348.5,371.5 348.5,369.5 348.5,368.5 348.5,366.5 348.5,364.5 348.5,362.5 348.5,360.5 351.5,403.5 351.5,401.5 351.5,399.5 351.5,398.5 351.5,396.5 351.5,394.5 351.5,392.5 351.5,385.5 351.5,382.5 351.5,380.5 351.5,376.5 351.5,375.5 351.5,373.5 351.5,371.5 351.5,364.5 351.5,360.5 351.5,359.5 351.5,357.5 351.5,355.5 353.5,399.5 353.5,398.5 353.5,396.5 353.5,394.5 353.5,390.5 353.5,389.5 353.5,387.5 353.5,385.5 353.5,383.5 353.5,382.5 353.5,376.5 353.5,375.5 353.5,373.5 353.5,371.5 353.5,369.5 353.5,368.5 353.5,364.5 353.5,362.5 355.5,413.5 355.5,412.5 355.5,410.5 355.5,408.5 355.5,406.5 355.5,405.5 355.5,401.5 355.5,398.5 355.5,392.5 355.5,389.5 355.5,387.5 355.5,385.5 355.5,383.5 355.5,382.5 355.5,378.5 355.5,373.5 355.5,371.5 357.5,420.5 357.5,419.5 357.5,413.5 357.5,412.5 357.5,410.5 357.5,408.5 357.5,406.5 357.5,405.5 357.5,399.5 357.5,398.5 357.5,396.5 357.5,394.5 357.5,389.5 357.5,387.5 357.5,385.5 357.5,383.5 357.5,380.5 357.5,378.5 357.5,376.5 357.5,375.5 357.5,373.5 357.5,371.5 357.5,369.5 357.5,368.5 357.5,366.5 357.5,364.5 359.5,406.5 359.5,405.5 359.5,401.5 359.5,399.5 359.5,398.5 359.5,394.5 359.5,392.5 359.5,390.5 359.5,389.5 359.5,387.5 359.5,383.5 359.5,380.5 359.5,378.5 359.5,375.5 359.5,371.5 361.5,424.5 361.5,422.5 361.5,420.5 361.5,419.5 361.5,417.5 361.5,415.5 361.5,413.5 361.5,412.5 361.5,410.5 361.5,405.5 361.5,403.5 361.5,401.5 361.5,399.5 361.5,396.5 361.5,394.5 361.5,392.5 361.5,390.5 361.5,389.5 361.5,387.5 361.5,385.5 361.5,383.5 361.5,382.5 361.5,380.5 361.5,378.5 361.5,376.5 361.5,375.5 361.5,373.5 361.5,371.5 361.5,369.5 363.5,408.5 363.5,405.5 363.5,403.5 363.5,401.5 363.5,399.5 363.5,398.5 363.5,396.5 363.5,394.5 363.5,390.5 363.5,389.5 363.5,387.5 363.5,385.5 363.5,380.5 363.5,376.5 363.5,375.5 363.5,373.5 363.5,371.5 363.5,369.5 363.5,368.5 363.5,366.5 363.5,364.5 363.5,362.5 365.5,410.5 365.5,408.5 365.5,405.5 365.5,401.5 365.5,399.5 365.5,398.5 365.5,396.5 365.5,394.5 365.5,392.5 365.5,390.5 365.5,389.5 365.5,387.5 365.5,385.5 365.5,383.5 365.5,380.5 365.5,378.5 365.5,375.5 365.5,373.5 365.5,371.5 365.5,369.5 365.5,364.5 365.5,362.5 367.5,419.5 367.5,417.5 367.5,413.5 367.5,412.5 367.5,405.5 367.5,401.5 367.5,394.5 367.5,392.5 367.5,390.5 367.5,389.5 367.5,385.5 367.5,383.5 367.5,382.5 367.5,380.5 367.5,378.5 367.5,376.5 367.5,375.5 367.5,371.5 367.5,369.5 367.5,368.5 367.5,364.5 370.5,389.5 370.5,387.5 370.5,385.5 370.5,383.5 370.5,382.5 370.5,380.5 370.5,376.5 370.5,373.5 370.5,371.5 370.5,369.5 370.5,368.5 370.5,364.5 370.5,355.5 372.5,390.5 372.5,389.5 372.5,387.5 372.5,385.5 372.5,380.5 372.5,376.5 372.5,371.5 372.5,369.5 372.5,368.5 372.5,366.5 372.5,364.5 372.5,362.5 372.5,357.5 372.5,355.5 374.5,406.5 374.5,405.5 374.5,403.5 374.5,401.5 374.5,396.5 374.5,394.5 374.5,392.5 374.5,383.5 374.5,380.5 374.5,376.5 374.5,375.5 374.5,373.5 374.5,371.5 376.5,405.5 376.5,399.5 376.5,398.5 376.5,396.5 376.5,394.5 376.5,390.5 376.5,389.5 376.5,383.5 376.5,380.5 376.5,378.5 378.5,408.5 378.5,406.5 378.5,403.5 378.5,401.5 378.5,399.5 378.5,394.5 378.5,390.5 378.5,389.5 378.5,387.5 378.5,385.5 378.5,382.5 378.5,380.5 380.5,398.5 380.5,396.5 380.5,390.5 380.5,389.5 380.5,383.5 380.5,382.5 380.5,378.5 382.5,408.5 382.5,406.5 382.5,405.5 382.5,401.5 382.5,399.5 382.5,396.5 382.5,394.5 382.5,392.5 382.5,389.5 382.5,387.5 382.5,385.5 382.5,383.5 382.5,382.5 382.5,380.5 382.5,376.5 382.5,375.5 382.5,373.5 384.5,401.5 384.5,399.5 384.5,398.5 384.5,396.5 384.5,394.5 384.5,392.5 384.5,389.5 384.5,385.5 384.5,383.5 384.5,382.5 384.5,380.5 384.5,378.5 386.5,405.5 386.5,403.5 386.5,401.5 386.5,399.5 386.5,398.5 386.5,392.5 386.5,389.5 386.5,387.5 386.5,385.5 386.5,382.5 386.5,380.5 386.5,378.5 389.5,406.5 389.5,405.5 389.5,403.5 389.5,401.5 389.5,399.5 389.5,398.5 389.5,396.5 389.5,394.5 389.5,392.5 389.5,390.5 389.5,389.5 389.5,387.5 389.5,385.5 391.5,413.5 391.5,412.5 391.5,410.5 391.5,408.5 391.5,406.5 391.5,405.5 391.5,399.5 391.5,394.5 391.5,392.5 391.5,389.5 391.5,387.5 391.5,385.5 391.5,383.5 393.5,419.5 393.5,417.5 393.5,415.5 393.5,413.5 393.5,412.5 393.5,410.5 393.5,408.5 393.5,406.5 393.5,405.5 393.5,403.5 393.5,399.5 393.5,398.5 393.5,396.5 393.5,389.5 393.5,387.5 393.5,385.5 393.5,383.5 393.5,382.5 393.5,380.5 393.5,378.5 393.5,376.5 393.5,375.5 395.5,424.5 395.5,422.5 395.5,420.5 395.5,417.5 395.5,415.5 395.5,413.5 395.5,410.5 395.5,408.5 395.5,406.5 395.5,401.5 395.5,399.5 395.5,398.5 395.5,396.5 395.5,392.5 395.5,389.5 395.5,382.5 395.5,378.5 397.5,420.5 397.5,417.5 397.5,415.5 397.5,412.5 397.5,408.5 397.5,406.5 397.5,401.5 397.5,399.5 397.5,398.5 397.5,396.5 397.5,394.5 397.5,392.5 397.5,390.5 397.5,389.5 397.5,387.5 397.5,383.5 397.5,378.5 397.5,376.5 397.5,375.5 399.5,389.5 401.5,415.5 401.5,413.5 401.5,410.5 401.5,403.5 401.5,398.5 401.5,396.5 401.5,392.5 401.5,390.5 401.5,385.5 401.5,383.5 401.5,382.5 401.5,378.5 401.5,376.5 401.5,375.5 403.5,420.5 403.5,419.5 403.5,417.5 403.5,415.5 403.5,413.5 403.5,412.5 403.5,410.5 403.5,406.5 403.5,403.5 403.5,401.5 403.5,399.5 403.5,398.5 403.5,396.5 403.5,394.5 403.5,392.5 403.5,390.5 403.5,389.5 403.5,387.5 403.5,385.5 403.5,383.5 403.5,380.5 405.5,406.5 405.5,405.5 405.5,403.5 405.5,401.5 405.5,399.5 405.5,396.5 405.5,394.5 405.5,392.5 405.5,390.5 405.5,389.5 405.5,387.5 405.5,385.5 405.5,383.5 405.5,380.5 405.5,378.5 408.5,413.5 408.5,410.5 408.5,408.5 408.5,406.5 408.5,403.5 408.5,401.5 408.5,398.5 408.5,396.5 408.5,392.5 408.5,390.5 408.5,389.5 408.5,387.5 408.5,385.5 408.5,382.5 410.5,403.5 410.5,401.5 410.5,399.5 410.5,396.5 410.5,394.5 410.5,392.5 410.5,389.5 410.5,387.5 410.5,383.5 410.5,380.5 410.5,378.5 412.5,401.5 412.5,399.5 412.5,396.5 412.5,394.5 412.5,390.5 412.5,389.5 412.5,385.5 412.5,383.5 412.5,380.5 412.5,376.5 414.5,412.5 414.5,410.5 414.5,408.5 414.5,406.5 414.5,405.5 414.5,401.5 414.5,398.5 414.5,394.5 416.5,412.5 416.5,410.5 416.5,408.5 416.5,405.5 416.5,403.5 416.5,401.5 416.5,399.5 416.5,396.5 416.5,394.5 416.5,392.5 416.5,390.5 416.5,389.5 416.5,387.5 418.5,399.5 418.5,398.5 418.5,394.5 418.5,390.5 418.5,389.5 418.5,387.5 418.5,385.5 418.5,383.5 418.5,378.5 418.5,376.5 420.5,394.5 420.5,390.5 420.5,389.5 420.5,387.5 420.5,385.5 420.5,383.5 420.5,380.5 422.5,401.5 422.5,398.5 422.5,396.5 422.5,394.5 422.5,392.5 422.5,390.5 422.5,385.5 422.5,383.5 422.5,382.5 422.5,376.5 422.5,375.5 424.5,394.5 424.5,392.5 424.5,390.5 424.5,389.5 424.5,385.5 424.5,383.5 424.5,380.5 424.5,378.5 424.5,376.5 424.5,373.5 427.5,392.5 427.5,390.5 427.5,383.5 427.5,382.5 427.5,380.5 429.5,403.5 429.5,401.5 429.5,399.5 429.5,398.5 429.5,389.5 429.5,385.5 429.5,383.5 429.5,382.5 429.5,380.5 429.5,378.5 431.5,399.5 431.5,396.5 431.5,394.5 431.5,390.5 431.5,389.5 431.5,387.5 431.5,385.5 431.5,382.5 431.5,380.5 431.5,378.5 431.5,373.5 433.5,412.5 433.5,406.5 433.5,405.5 433.5,403.5 433.5,401.5 433.5,399.5 433.5,398.5 433.5,396.5 433.5,392.5 433.5,385.5 433.5,382.5 433.5,378.5 433.5,376.5 433.5,375.5 433.5,373.5 435.5,413.5 435.5,412.5 435.5,410.5 435.5,408.5 435.5,406.5 435.5,405.5 435.5,401.5 435.5,399.5 435.5,398.5 435.5,390.5 435.5,389.5 435.5,387.5 435.5,385.5 435.5,382.5 435.5,376.5 435.5,375.5 437.5,413.5 437.5,406.5 437.5,403.5 437.5,401.5 437.5,394.5 437.5,390.5 437.5,385.5 437.5,383.5 437.5,382.5 437.5,380.5 437.5,376.5 437.5,375.5 437.5,371.5 437.5,369.5 437.5,368.5 437.5,364.5 437.5,362.5 437.5,360.5 439.5,412.5 439.5,410.5 439.5,408.5 439.5,406.5 439.5,405.5 439.5,403.5 439.5,399.5 439.5,396.5 439.5,387.5 439.5,385.5 439.5,383.5 439.5,380.5 439.5,378.5 439.5,376.5 439.5,373.5 439.5,371.5 439.5,369.5 439.5,366.5 439.5,360.5 439.5,359.5 439.5,357.5 439.5,355.5 439.5,353.5 441.5,415.5 441.5,413.5 441.5,412.5 441.5,406.5 441.5,405.5 441.5,403.5 441.5,399.5 441.5,398.5 441.5,394.5 441.5,392.5 441.5,389.5 441.5,385.5 441.5,383.5 441.5,382.5 441.5,380.5 441.5,378.5 441.5,376.5 441.5,375.5 441.5,373.5 441.5,371.5 441.5,369.5 441.5,366.5 441.5,364.5 441.5,362.5 441.5,360.5 441.5,359.5 441.5,355.5 441.5,353.5 443.5,412.5 443.5,410.5 443.5,408.5 443.5,403.5 443.5,399.5 443.5,398.5 443.5,394.5 443.5,392.5 443.5,390.5 443.5,385.5 443.5,382.5 443.5,378.5 443.5,376.5 443.5,373.5 443.5,371.5 443.5,366.5 443.5,364.5 443.5,362.5 446.5,419.5 446.5,415.5 446.5,413.5 446.5,412.5 446.5,406.5 446.5,405.5 446.5,403.5 446.5,401.5 446.5,399.5 446.5,398.5 446.5,396.5 446.5,394.5 446.5,392.5 446.5,390.5 446.5,387.5 446.5,385.5 446.5,383.5 446.5,380.5 446.5,378.5 446.5,373.5 446.5,371.5 446.5,369.5 446.5,368.5 446.5,366.5 446.5,364.5 446.5,362.5 446.5,360.5 446.5,359.5 446.5,357.5 446.5,355.5 448.5,415.5 448.5,413.5 448.5,412.5 448.5,410.5 448.5,408.5 448.5,406.5 448.5,401.5 448.5,394.5 448.5,389.5 448.5,387.5 448.5,382.5 448.5,380.5 448.5,378.5 448.5,376.5 448.5,375.5 448.5,369.5 448.5,368.5 448.5,366.5 448.5,362.5 448.5,360.5 448.5,359.5 448.5,357.5 450.5,389.5 450.5,387.5 450.5,383.5 450.5,382.5 450.5,378.5 450.5,376.5 450.5,375.5 450.5,373.5 450.5,371.5 450.5,368.5 450.5,366.5 450.5,364.5 450.5,362.5 452.5,385.5 452.5,383.5 452.5,382.5 452.5,380.5 452.5,378.5 452.5,376.5 452.5,375.5 452.5,373.5 452.5,371.5 452.5,369.5 452.5,366.5 452.5,364.5 452.5,362.5 454.5,385.5 454.5,383.5 454.5,380.5 454.5,378.5 454.5,373.5 454.5,369.5 454.5,366.5 454.5,364.5 454.5,360.5 454.5,357.5 454.5,355.5 456.5,392.5 456.5,390.5 456.5,389.5 456.5,385.5 456.5,380.5 456.5,378.5 456.5,376.5 456.5,375.5 456.5,373.5 456.5,369.5 456.5,368.5 456.5,366.5 456.5,364.5 456.5,362.5 456.5,360.5 456.5,359.5 458.5,390.5 458.5,389.5 458.5,387.5 458.5,385.5 458.5,383.5 458.5,380.5 458.5,376.5 458.5,375.5 458.5,373.5 458.5,371.5 458.5,368.5 458.5,362.5 458.5,360.5 460.5,394.5 460.5,392.5 460.5,390.5 460.5,389.5 460.5,387.5 460.5,385.5 460.5,382.5 460.5,380.5 460.5,373.5 460.5,369.5 460.5,368.5 460.5,366.5 460.5,364.5 460.5,359.5 460.5,357.5 462.5,399.5 462.5,398.5 462.5,396.5 462.5,394.5 462.5,387.5 462.5,385.5 462.5,383.5 462.5,382.5 462.5,380.5 462.5,378.5 462.5,376.5 462.5,375.5 462.5,373.5 462.5,371.5 462.5,369.5 462.5,368.5 462.5,366.5 462.5,362.5 464.5,396.5 464.5,390.5 464.5,385.5 464.5,383.5 464.5,382.5 464.5,380.5 464.5,378.5 464.5,376.5 464.5,373.5 464.5,371.5 464.5,369.5 464.5,368.5 464.5,366.5 464.5,362.5 467.5,396.5 467.5,390.5 467.5,387.5 467.5,383.5 467.5,380.5 467.5,378.5 467.5,375.5 467.5,373.5 467.5,369.5 467.5,368.5 467.5,366.5 469.5,405.5 469.5,403.5 469.5,401.5 469.5,399.5 469.5,398.5 469.5,394.5 469.5,389.5 469.5,387.5 469.5,385.5 469.5,382.5 469.5,380.5 469.5,378.5 469.5,376.5 469.5,375.5 469.5,373.5 469.5,371.5 469.5,368.5 469.5,364.5 469.5,362.5 471.5,398.5 471.5,396.5 471.5,394.5 471.5,387.5 471.5,385.5 471.5,382.5 471.5,380.5 471.5,378.5 471.5,376.5 471.5,375.5 471.5,373.5 471.5,371.5 471.5,369.5 471.5,368.5 471.5,366.5 471.5,362.5 471.5,360.5 471.5,357.5 471.5,353.5 473.5,405.5 473.5,401.5 473.5,398.5 473.5,396.5 473.5,392.5 473.5,390.5 473.5,389.5 473.5,387.5 473.5,383.5 473.5,378.5 473.5,373.5 473.5,371.5 473.5,369.5 473.5,366.5 473.5,359.5 473.5,357.5 473.5,355.5 473.5,353.5 475.5,415.5 475.5,413.5 475.5,408.5 475.5,406.5 475.5,405.5 475.5,403.5 475.5,399.5 475.5,396.5 475.5,394.5 475.5,390.5 475.5,389.5 475.5,383.5 475.5,382.5 475.5,380.5 475.5,376.5 475.5,375.5 475.5,373.5 475.5,362.5 475.5,360.5 475.5,359.5 475.5,357.5 475.5,355.5 477.5,410.5 477.5,408.5 477.5,406.5 477.5,405.5 477.5,403.5 477.5,399.5 477.5,398.5 477.5,396.5 477.5,394.5 477.5,392.5 477.5,387.5 477.5,385.5 477.5,382.5 477.5,375.5 477.5,373.5 477.5,369.5 477.5,366.5 477.5,362.5 477.5,360.5 479.5,420.5 479.5,419.5 479.5,417.5 479.5,415.5 479.5,410.5 479.5,406.5 479.5,405.5 479.5,403.5 479.5,394.5 479.5,389.5 479.5,387.5 479.5,385.5 481.5,415.5 481.5,413.5 481.5,412.5 481.5,410.5 481.5,406.5 481.5,403.5 481.5,401.5 481.5,396.5 481.5,394.5 481.5,392.5 481.5,390.5 481.5,389.5 481.5,387.5 481.5,383.5 481.5,382.5 481.5,380.5 481.5,378.5 483.5,413.5 483.5,412.5 483.5,410.5 483.5,408.5 483.5,405.5 483.5,403.5 483.5,401.5 483.5,399.5 483.5,398.5 483.5,396.5 483.5,390.5 483.5,387.5 483.5,385.5 483.5,383.5 486.5,410.5 486.5,408.5 486.5,405.5 486.5,401.5 486.5,399.5 486.5,398.5 486.5,396.5 486.5,394.5 486.5,392.5 486.5,390.5 486.5,387.5 486.5,382.5 486.5,378.5 486.5,376.5 488.5,399.5 488.5,398.5 488.5,396.5 488.5,392.5 488.5,390.5 488.5,389.5 488.5,387.5 488.5,385.5 488.5,378.5 488.5,376.5 488.5,375.5 488.5,373.5 488.5,371.5 488.5,369.5 488.5,368.5 488.5,366.5 488.5,364.5 488.5,362.5 488.5,360.5 490.5,401.5 490.5,394.5 490.5,390.5 490.5,389.5 490.5,387.5 490.5,383.5 490.5,382.5 490.5,380.5 490.5,378.5 490.5,376.5 490.5,375.5 490.5,371.5 490.5,369.5 490.5,368.5 490.5,366.5 490.5,364.5 492.5,398.5 492.5,392.5 492.5,390.5 492.5,389.5 492.5,387.5 492.5,385.5 492.5,383.5 492.5,382.5 492.5,380.5 492.5,376.5 492.5,375.5 492.5,373.5 492.5,371.5 492.5,368.5 492.5,366.5 492.5,364.5 492.5,362.5 492.5,360.5 492.5,359.5 492.5,357.5 494.5,394.5 494.5,390.5 494.5,387.5 494.5,385.5 494.5,382.5 494.5,376.5 494.5,373.5 494.5,371.5 494.5,369.5 494.5,368.5 494.5,364.5 494.5,362.5 494.5,357.5 494.5,355.5 494.5,353.5 496.5,394.5 496.5,392.5 496.5,389.5 496.5,387.5 496.5,385.5 496.5,383.5 496.5,380.5 496.5,378.5 496.5,375.5 496.5,373.5 496.5,371.5 496.5,368.5 496.5,366.5 496.5,364.5 496.5,360.5 496.5,357.5 496.5,355.5 496.5,353.5 496.5,352.5 498.5,389.5 498.5,387.5 498.5,385.5 498.5,380.5 498.5,378.5 498.5,376.5 498.5,375.5 498.5,373.5 498.5,369.5 498.5,368.5 498.5,366.5 498.5,362.5 498.5,360.5 500.5,394.5 500.5,392.5 500.5,390.5 500.5,389.5 500.5,387.5 500.5,385.5 500.5,380.5 500.5,378.5 500.5,376.5 500.5,375.5 500.5,371.5 500.5,369.5 500.5,368.5 500.5,364.5 500.5,360.5 500.5,359.5 500.5,357.5 502.5,387.5 502.5,385.5 502.5,382.5 502.5,380.5 502.5,378.5 502.5,376.5 502.5,373.5 502.5,366.5 502.5,364.5 502.5,362.5 502.5,360.5 502.5,359.5 502.5,357.5 505.5,389.5 505.5,387.5 505.5,385.5 505.5,383.5 505.5,378.5 505.5,375.5 505.5,369.5 505.5,368.5 505.5,366.5 505.5,364.5 505.5,362.5 505.5,359.5 505.5,357.5 505.5,355.5 505.5,352.5 505.5,350.5 505.5,348.5 505.5,346.5 507.5,398.5 507.5,396.5 507.5,394.5 507.5,392.5 507.5,385.5 507.5,383.5 507.5,382.5 507.5,376.5 507.5,373.5 507.5,371.5 507.5,368.5 507.5,366.5 507.5,364.5 507.5,362.5 507.5,359.5 507.5,357.5 507.5,352.5 507.5,350.5 507.5,348.5 507.5,346.5 509.5,394.5 509.5,392.5 509.5,389.5 509.5,385.5 509.5,383.5 509.5,380.5 509.5,375.5 509.5,373.5 509.5,368.5 509.5,366.5 509.5,364.5 509.5,360.5 509.5,359.5 509.5,357.5 509.5,355.5 509.5,353.5 509.5,352.5 509.5,350.5 509.5,348.5 509.5,346.5 511.5,394.5 511.5,392.5 511.5,390.5 511.5,389.5 511.5,385.5 511.5,383.5 511.5,382.5 511.5,380.5 511.5,378.5 511.5,375.5 511.5,373.5 511.5,366.5 511.5,364.5 511.5,362.5 511.5,360.5 511.5,352.5 511.5,346.5 511.5,345.5 511.5,343.5 511.5,341.5 511.5,339.5 511.5,336.5 511.5,332.5 511.5,330.5 511.5,327.5 511.5,325.5 511.5,323.5 511.5,322.5 511.5,320.5 513.5,390.5 513.5,389.5 513.5,385.5 513.5,383.5 513.5,380.5 513.5,378.5 513.5,375.5 513.5,373.5 513.5,371.5 513.5,366.5 513.5,364.5 513.5,362.5 513.5,359.5 513.5,355.5 513.5,350.5 513.5,348.5 513.5,346.5 513.5,345.5 513.5,343.5 513.5,341.5 513.5,339.5 513.5,337.5 513.5,336.5 513.5,334.5 513.5,332.5 513.5,330.5 513.5,329.5 513.5,327.5 515.5,394.5 515.5,392.5 515.5,390.5 515.5,382.5 515.5,380.5 515.5,378.5 515.5,376.5 515.5,373.5 515.5,371.5 515.5,369.5 515.5,368.5 515.5,364.5 515.5,362.5 515.5,360.5 515.5,359.5 515.5,355.5 515.5,353.5 515.5,352.5 515.5,350.5 515.5,348.5 515.5,343.5 515.5,339.5 515.5,337.5 515.5,334.5 515.5,332.5 515.5,330.5 515.5,329.5 515.5,327.5 515.5,325.5 515.5,323.5 515.5,322.5 515.5,318.5 517.5,389.5 517.5,385.5 517.5,383.5 517.5,380.5 517.5,376.5 517.5,375.5 517.5,371.5 517.5,369.5 517.5,364.5 517.5,362.5 517.5,357.5 517.5,355.5 517.5,353.5 517.5,352.5 517.5,350.5 517.5,348.5 517.5,346.5 517.5,343.5 517.5,341.5 517.5,337.5 517.5,332.5 517.5,330.5 517.5,329.5 517.5,327.5 517.5,325.5 517.5,323.5 517.5,322.5 517.5,320.5 517.5,318.5 517.5,316.5 519.5,394.5 519.5,392.5 519.5,390.5 519.5,389.5 519.5,385.5 519.5,383.5 519.5,380.5 519.5,378.5 519.5,376.5 519.5,375.5 519.5,369.5 519.5,368.5 519.5,366.5 519.5,362.5 519.5,360.5 519.5,359.5 519.5,357.5 519.5,355.5 519.5,350.5 519.5,348.5 519.5,343.5 519.5,341.5 519.5,339.5 519.5,336.5 519.5,334.5 519.5,332.5 519.5,330.5 519.5,329.5 519.5,327.5 519.5,325.5 519.5,322.5 521.5,382.5 521.5,380.5 521.5,376.5 521.5,375.5 521.5,373.5 521.5,371.5 521.5,366.5 521.5,364.5 521.5,360.5 521.5,359.5 521.5,357.5 521.5,350.5 521.5,348.5 521.5,346.5 521.5,345.5 521.5,339.5 521.5,337.5 521.5,336.5 521.5,334.5 521.5,330.5 524.5,383.5 524.5,382.5 524.5,378.5 524.5,376.5 524.5,373.5 524.5,369.5 524.5,368.5 524.5,359.5 524.5,357.5 524.5,353.5 524.5,348.5 524.5,345.5 524.5,343.5 524.5,339.5 524.5,337.5 524.5,336.5 524.5,334.5 524.5,332.5 526.5,382.5 526.5,378.5 526.5,376.5 526.5,375.5 526.5,371.5 526.5,368.5 526.5,366.5 526.5,364.5 526.5,360.5 526.5,357.5 526.5,353.5 526.5,352.5 526.5,350.5 526.5,346.5 526.5,343.5 526.5,341.5 526.5,339.5 528.5,373.5 528.5,371.5 528.5,369.5 528.5,366.5 528.5,362.5 528.5,360.5 528.5,359.5 528.5,357.5 528.5,355.5 528.5,353.5 528.5,352.5 528.5,350.5 528.5,348.5 528.5,346.5 528.5,345.5 528.5,343.5 530.5,376.5 530.5,375.5 530.5,373.5 530.5,371.5 530.5,368.5 530.5,366.5 530.5,364.5 530.5,360.5 530.5,359.5 530.5,357.5 530.5,355.5 530.5,353.5 530.5,352.5 530.5,350.5 530.5,346.5 530.5,343.5 530.5,341.5 530.5,339.5 532.5,378.5 532.5,376.5 532.5,375.5 532.5,369.5 532.5,368.5 532.5,366.5 532.5,362.5 532.5,360.5 532.5,357.5 532.5,355.5 532.5,353.5 532.5,352.5 532.5,348.5 532.5,346.5 532.5,345.5 532.5,343.5 532.5,339.5 534.5,380.5 534.5,378.5 534.5,376.5 534.5,375.5 534.5,373.5 534.5,369.5 534.5,368.5 534.5,366.5 534.5,364.5 534.5,362.5 534.5,360.5 534.5,359.5 534.5,357.5 534.5,355.5 534.5,353.5 534.5,352.5 534.5,350.5 534.5,348.5 536.5,382.5 536.5,378.5 536.5,375.5 536.5,373.5 536.5,369.5 536.5,366.5 536.5,364.5 536.5,362.5 536.5,360.5 536.5,359.5 536.5,352.5 536.5,350.5 536.5,348.5 538.5,378.5 538.5,369.5 538.5,368.5 538.5,364.5 538.5,362.5 538.5,360.5 538.5,357.5 540.5,378.5 540.5,375.5 540.5,373.5 540.5,371.5 540.5,362.5 540.5,359.5 540.5,357.5 540.5,353.5 540.5,352.5 543.5,392.5 543.5,390.5 543.5,387.5 543.5,385.5 543.5,380.5 543.5,378.5 543.5,376.5 543.5,373.5 543.5,371.5 543.5,369.5 543.5,368.5 543.5,366.5 543.5,364.5 543.5,362.5 543.5,355.5 543.5,352.5 543.5,348.5 543.5,346.5 543.5,345.5 543.5,343.5 543.5,337.5 543.5,336.5 543.5,330.5 545.5,392.5 545.5,389.5 545.5,387.5 545.5,385.5 545.5,383.5 545.5,380.5 545.5,378.5 545.5,376.5 545.5,375.5 545.5,371.5 545.5,369.5 545.5,366.5 545.5,364.5 545.5,362.5 545.5,359.5 545.5,355.5 545.5,353.5 545.5,352.5 545.5,350.5 545.5,346.5 545.5,345.5 545.5,341.5 545.5,339.5 547.5,394.5 547.5,390.5 547.5,389.5 547.5,385.5 547.5,383.5 547.5,380.5 547.5,376.5 547.5,371.5 547.5,369.5 547.5,366.5 547.5,364.5 547.5,362.5 547.5,360.5 547.5,357.5 547.5,355.5 547.5,353.5 547.5,352.5 547.5,345.5 547.5,341.5 547.5,337.5 547.5,336.5 547.5,334.5 547.5,332.5 547.5,330.5 549.5,392.5 549.5,389.5 549.5,382.5 549.5,375.5 549.5,373.5 549.5,371.5 549.5,368.5 549.5,366.5 549.5,364.5 549.5,362.5 549.5,360.5 549.5,359.5 549.5,355.5 549.5,348.5 549.5,346.5 549.5,345.5 549.5,341.5 549.5,339.5 549.5,337.5 549.5,336.5 549.5,332.5 551.5,382.5 551.5,380.5 551.5,375.5 551.5,373.5 551.5,371.5 551.5,366.5 551.5,364.5 551.5,353.5 551.5,350.5 551.5,348.5 551.5,346.5 551.5,345.5 551.5,343.5 551.5,341.5 551.5,339.5 551.5,337.5 551.5,336.5 551.5,334.5 551.5,332.5 551.5,330.5 551.5,329.5 551.5,327.5 551.5,325.5 551.5,322.5 553.5,387.5 553.5,385.5 553.5,378.5 553.5,375.5 553.5,368.5 553.5,366.5 553.5,360.5 553.5,359.5 553.5,357.5 553.5,353.5 553.5,352.5 553.5,350.5 553.5,343.5 553.5,339.5 553.5,337.5 553.5,334.5 553.5,332.5 553.5,330.5 553.5,329.5 553.5,327.5 553.5,325.5 555.5,380.5 555.5,378.5 555.5,376.5 555.5,375.5 555.5,373.5 555.5,369.5 555.5,368.5 555.5,366.5 555.5,359.5 555.5,357.5 555.5,353.5 555.5,348.5 555.5,343.5 555.5,339.5 555.5,337.5 555.5,334.5 555.5,332.5 555.5,330.5 555.5,329.5 557.5,376.5 557.5,375.5 557.5,371.5 557.5,368.5 557.5,366.5 557.5,364.5 557.5,362.5 557.5,359.5 557.5,355.5 557.5,353.5 557.5,352.5 557.5,348.5 557.5,346.5 557.5,345.5 557.5,343.5 557.5,339.5 557.5,337.5 557.5,336.5 557.5,334.5 557.5,332.5 557.5,330.5 557.5,329.5 559.5,378.5 559.5,376.5 559.5,373.5 559.5,371.5 559.5,369.5 559.5,368.5 559.5,366.5 559.5,364.5 559.5,360.5 559.5,359.5 559.5,357.5 559.5,353.5 559.5,352.5 559.5,350.5 559.5,346.5 559.5,345.5 559.5,343.5 559.5,341.5 559.5,339.5 559.5,337.5 559.5,336.5 559.5,332.5 559.5,330.5 562.5,382.5 562.5,380.5 562.5,378.5 562.5,376.5 562.5,371.5 562.5,368.5 562.5,366.5 562.5,364.5 562.5,360.5 562.5,359.5 562.5,357.5 562.5,353.5 562.5,352.5 562.5,350.5 562.5,348.5 562.5,339.5 562.5,334.5 562.5,332.5 562.5,330.5 564.5,380.5 564.5,376.5 564.5,373.5 564.5,371.5 564.5,369.5 564.5,368.5 564.5,366.5 564.5,364.5 564.5,362.5 564.5,360.5 564.5,357.5 564.5,348.5 564.5,346.5 564.5,343.5 564.5,341.5 564.5,339.5 564.5,337.5 564.5,334.5 564.5,332.5 564.5,330.5 564.5,329.5 566.5,375.5 566.5,366.5 566.5,364.5 566.5,362.5 566.5,360.5 566.5,359.5 566.5,355.5 566.5,353.5 566.5,350.5 566.5,348.5 566.5,346.5 566.5,343.5 566.5,341.5 566.5,337.5 566.5,334.5 566.5,332.5 566.5,330.5 566.5,329.5 568.5,376.5 568.5,375.5 568.5,373.5 568.5,369.5 568.5,368.5 568.5,366.5 568.5,364.5 568.5,362.5 568.5,360.5 568.5,359.5 568.5,357.5 568.5,355.5 568.5,352.5 568.5,348.5 568.5,346.5 568.5,343.5 568.5,341.5 568.5,339.5 568.5,336.5 568.5,334.5 568.5,332.5 568.5,330.5 570.5,380.5 570.5,378.5 570.5,376.5 570.5,375.5 570.5,373.5 570.5,369.5 570.5,368.5 570.5,366.5 570.5,364.5 570.5,360.5 570.5,359.5 570.5,357.5 570.5,355.5 570.5,352.5 570.5,350.5 570.5,348.5 570.5,345.5 570.5,343.5 570.5,341.5 570.5,339.5 570.5,337.5 570.5,332.5 570.5,330.5 570.5,329.5 572.5,376.5 572.5,375.5 572.5,373.5 572.5,371.5 572.5,366.5 572.5,364.5 572.5,362.5 572.5,360.5 572.5,357.5 572.5,355.5 572.5,353.5 572.5,350.5 572.5,348.5 572.5,346.5 572.5,345.5 572.5,343.5 572.5,339.5 572.5,336.5 572.5,334.5 572.5,332.5 574.5,383.5 574.5,380.5 574.5,378.5 574.5,376.5 574.5,375.5 574.5,373.5 574.5,371.5 574.5,369.5 574.5,364.5 574.5,362.5 574.5,360.5 574.5,359.5 574.5,357.5 574.5,353.5 574.5,352.5 574.5,350.5 574.5,348.5 574.5,346.5 574.5,341.5 574.5,339.5 574.5,337.5 576.5,380.5 576.5,376.5 576.5,373.5 576.5,369.5 576.5,368.5 576.5,366.5 576.5,364.5 576.5,360.5 576.5,357.5 576.5,355.5 576.5,352.5 576.5,350.5 576.5,348.5 576.5,346.5 576.5,341.5 576.5,339.5 576.5,337.5 576.5,336.5 576.5,334.5 576.5,332.5 578.5,385.5 578.5,383.5 578.5,382.5 578.5,380.5 578.5,378.5 578.5,376.5 578.5,375.5 578.5,371.5 578.5,369.5 578.5,368.5 578.5,366.5 578.5,364.5 578.5,362.5 578.5,360.5 578.5,359.5 578.5,355.5 578.5,352.5 578.5,350.5 578.5,348.5 578.5,346.5 578.5,343.5 578.5,341.5 578.5,339.5 578.5,336.5 578.5,334.5 578.5,332.5 581.5,385.5 581.5,383.5 581.5,380.5 581.5,378.5 581.5,376.5 581.5,375.5 581.5,366.5 581.5,360.5 581.5,359.5 581.5,357.5 581.5,355.5 581.5,353.5 581.5,352.5 581.5,350.5 581.5,345.5 581.5,343.5 581.5,341.5 581.5,339.5 581.5,337.5 583.5,383.5 583.5,382.5 583.5,380.5 583.5,378.5 583.5,376.5 583.5,373.5 583.5,368.5 583.5,364.5 583.5,362.5 583.5,360.5 583.5,359.5 583.5,357.5 583.5,352.5 583.5,350.5 583.5,348.5 583.5,346.5 585.5,378.5 585.5,376.5 585.5,368.5 585.5,366.5 585.5,364.5 585.5,362.5 585.5,360.5 585.5,359.5 585.5,357.5 585.5,355.5 585.5,353.5 585.5,352.5 585.5,350.5 585.5,346.5 585.5,343.5 587.5,385.5 587.5,383.5 587.5,380.5 587.5,375.5 587.5,373.5 587.5,371.5 587.5,369.5 587.5,368.5 587.5,366.5 587.5,364.5 587.5,362.5 587.5,360.5 587.5,359.5 587.5,355.5 587.5,353.5 589.5,390.5 589.5,389.5 589.5,385.5 589.5,383.5 589.5,378.5 589.5,376.5 589.5,375.5 589.5,373.5 589.5,371.5 589.5,369.5 589.5,366.5 589.5,364.5 589.5,360.5 589.5,359.5 589.5,357.5 589.5,355.5 589.5,353.5 589.5,352.5 589.5,350.5 589.5,348.5 589.5,346.5 591.5,390.5 591.5,389.5 591.5,385.5 591.5,380.5 591.5,378.5 591.5,375.5 591.5,369.5 591.5,366.5 591.5,364.5 591.5,359.5 591.5,353.5 591.5,352.5 593.5,394.5 593.5,390.5 593.5,385.5 593.5,383.5 593.5,382.5 593.5,378.5 593.5,373.5 593.5,371.5 593.5,369.5 593.5,366.5 593.5,364.5 593.5,362.5 593.5,360.5 593.5,357.5 593.5,355.5 593.5,353.5 593.5,352.5 595.5,401.5 595.5,399.5 595.5,398.5 595.5,394.5 595.5,392.5 595.5,390.5 595.5,387.5 595.5,383.5 595.5,382.5 595.5,378.5 595.5,376.5 595.5,375.5 595.5,373.5 595.5,368.5 595.5,364.5 595.5,362.5 595.5,360.5 595.5,359.5 595.5,357.5 595.5,355.5 595.5,353.5 595.5,352.5 595.5,350.5 595.5,346.5 595.5,341.5 595.5,337.5 595.5,330.5 595.5,327.5 595.5,323.5 595.5,318.5 595.5,316.5 595.5,315.5 597.5,398.5 597.5,396.5 597.5,394.5 597.5,392.5 597.5,390.5 597.5,387.5 597.5,385.5 597.5,383.5 597.5,382.5 597.5,380.5 597.5,378.5 597.5,376.5 597.5,375.5 597.5,373.5 597.5,369.5 597.5,364.5 597.5,362.5 597.5,360.5 597.5,357.5 597.5,355.5 597.5,353.5 597.5,352.5 597.5,348.5 597.5,346.5 597.5,343.5 597.5,339.5 597.5,337.5 597.5,329.5 597.5,327.5 597.5,325.5 597.5,323.5 597.5,322.5 597.5,320.5 600.5,398.5 600.5,394.5 600.5,392.5 600.5,390.5 600.5,383.5 600.5,382.5 600.5,380.5 600.5,376.5 600.5,375.5 600.5,369.5 600.5,368.5 600.5,364.5 600.5,360.5 600.5,359.5 600.5,355.5 600.5,353.5 600.5,350.5 600.5,348.5 600.5,346.5 600.5,345.5 600.5,343.5 600.5,336.5 600.5,332.5 600.5,329.5 600.5,325.5 600.5,322.5 600.5,318.5 602.5,376.5 602.5,375.5 602.5,373.5 602.5,369.5 602.5,368.5 602.5,364.5 602.5,359.5 602.5,350.5 602.5,348.5 602.5,346.5 602.5,345.5 602.5,341.5 602.5,337.5 602.5,336.5 602.5,334.5 602.5,332.5 602.5,330.5 602.5,329.5 604.5,383.5 604.5,382.5 604.5,380.5 604.5,376.5 604.5,375.5 604.5,373.5 604.5,371.5 604.5,369.5 604.5,368.5 604.5,364.5 604.5,362.5 604.5,357.5 604.5,353.5 604.5,352.5 604.5,348.5 604.5,345.5 604.5,343.5 604.5,341.5 604.5,339.5 604.5,337.5 604.5,336.5 604.5,334.5 606.5,382.5 606.5,378.5 606.5,376.5 606.5,371.5 606.5,369.5 606.5,368.5 606.5,366.5 606.5,364.5 606.5,362.5 606.5,359.5 606.5,357.5 606.5,355.5 606.5,353.5 606.5,348.5 606.5,346.5 606.5,345.5 606.5,343.5 606.5,339.5 606.5,337.5 606.5,332.5 606.5,329.5 606.5,327.5 606.5,325.5 606.5,323.5 606.5,322.5 606.5,320.5 606.5,318.5 606.5,316.5 606.5,315.5 608.5,383.5 608.5,382.5 608.5,376.5 608.5,375.5 608.5,373.5 608.5,371.5 608.5,369.5 608.5,368.5 608.5,366.5 608.5,364.5 608.5,362.5 608.5,360.5 608.5,359.5 608.5,350.5 608.5,348.5 608.5,345.5 608.5,343.5 608.5,341.5 608.5,337.5 608.5,336.5 608.5,334.5 608.5,332.5 608.5,329.5 608.5,327.5 608.5,325.5 608.5,322.5 608.5,320.5 608.5,318.5 608.5,316.5 608.5,315.5 610.5,385.5 610.5,383.5 610.5,382.5 610.5,378.5 610.5,376.5 610.5,375.5 610.5,373.5 610.5,371.5 610.5,366.5 610.5,364.5 610.5,362.5 610.5,360.5 610.5,359.5 610.5,357.5 610.5,353.5 610.5,352.5 610.5,350.5 610.5,348.5 610.5,345.5 610.5,343.5 610.5,341.5 610.5,339.5 610.5,337.5 610.5,336.5 610.5,334.5 610.5,332.5 610.5,330.5 612.5,376.5 612.5,375.5 612.5,373.5 612.5,371.5 612.5,369.5 612.5,364.5 612.5,359.5 612.5,357.5 612.5,355.5 612.5,353.5 612.5,352.5 612.5,350.5 612.5,348.5 612.5,339.5 612.5,337.5 612.5,336.5 612.5,334.5 612.5,332.5 612.5,329.5 614.5,376.5 614.5,373.5 614.5,371.5 614.5,369.5 614.5,368.5 614.5,366.5 614.5,364.5 614.5,360.5 614.5,357.5 614.5,355.5 614.5,353.5 614.5,346.5 614.5,345.5 614.5,341.5 614.5,339.5 614.5,337.5 614.5,336.5 614.5,334.5 614.5,330.5 616.5,383.5 616.5,382.5 616.5,378.5 616.5,376.5 616.5,375.5 616.5,373.5 616.5,371.5 616.5,369.5 616.5,368.5 616.5,366.5 616.5,364.5 616.5,362.5 616.5,360.5 616.5,355.5 616.5,353.5 616.5,350.5 616.5,345.5 616.5,343.5 616.5,341.5 616.5,339.5 616.5,337.5 616.5,336.5 616.5,334.5 616.5,332.5 616.5,330.5 619.5,424.5 619.5,422.5 619.5,420.5 619.5,419.5 619.5,413.5 619.5,412.5 619.5,405.5 619.5,403.5 619.5,398.5 619.5,394.5 619.5,392.5 619.5,390.5 619.5,389.5 619.5,387.5 619.5,383.5 619.5,378.5 619.5,373.5 619.5,371.5 619.5,369.5 619.5,366.5 619.5,364.5 619.5,362.5 619.5,359.5 619.5,355.5 619.5,352.5 619.5,350.5 619.5,348.5 619.5,346.5 619.5,345.5 619.5,341.5 621.5,436.5 621.5,435.5 621.5,433.5 621.5,431.5 621.5,428.5 621.5,426.5 621.5,424.5 621.5,422.5 621.5,419.5 621.5,415.5 621.5,413.5 621.5,412.5 621.5,410.5 621.5,408.5 621.5,406.5 621.5,401.5 621.5,399.5 621.5,394.5 621.5,392.5 621.5,390.5 621.5,389.5 621.5,383.5 621.5,382.5 621.5,380.5 621.5,376.5 621.5,373.5 621.5,371.5 621.5,369.5 621.5,368.5 621.5,366.5 621.5,364.5 621.5,362.5 621.5,359.5 621.5,357.5 621.5,355.5 621.5,352.5 621.5,350.5 621.5,348.5 621.5,346.5 623.5,436.5 623.5,435.5 623.5,433.5 623.5,431.5 623.5,429.5 623.5,428.5 623.5,424.5 623.5,422.5 623.5,420.5 623.5,419.5 623.5,417.5 623.5,415.5 623.5,413.5 623.5,408.5 623.5,406.5 623.5,405.5 623.5,403.5 623.5,399.5 623.5,396.5 623.5,392.5 623.5,390.5 623.5,385.5 623.5,383.5 623.5,382.5 623.5,378.5 623.5,371.5 623.5,368.5 623.5,366.5 623.5,364.5 623.5,360.5 623.5,359.5 623.5,355.5 623.5,353.5 623.5,350.5 623.5,346.5 623.5,345.5 623.5,343.5 623.5,341.5 625.5,419.5 625.5,417.5 625.5,413.5 625.5,408.5 625.5,406.5 625.5,403.5 625.5,401.5 625.5,399.5 625.5,394.5 625.5,392.5 625.5,390.5 625.5,382.5 625.5,380.5 625.5,378.5 625.5,376.5 625.5,373.5 625.5,371.5 625.5,369.5 625.5,368.5 625.5,364.5 625.5,362.5 625.5,360.5 625.5,359.5 625.5,357.5 625.5,355.5 625.5,352.5 625.5,346.5 625.5,345.5 625.5,343.5 625.5,341.5 627.5,419.5 627.5,408.5 627.5,405.5 627.5,403.5 627.5,401.5 627.5,399.5 627.5,394.5 627.5,387.5 627.5,385.5 627.5,383.5 627.5,382.5 627.5,380.5 627.5,376.5 627.5,373.5 627.5,368.5 627.5,366.5 627.5,362.5 627.5,359.5 627.5,353.5 627.5,352.5 627.5,350.5 627.5,348.5 627.5,346.5 627.5,345.5 627.5,343.5 629.5,431.5 629.5,424.5 629.5,420.5 629.5,419.5 629.5,415.5 629.5,413.5 629.5,406.5 629.5,405.5 629.5,403.5 629.5,401.5 629.5,398.5 629.5,396.5 629.5,394.5 629.5,392.5 629.5,390.5 631.5,428.5 631.5,426.5 631.5,424.5 631.5,422.5 631.5,420.5 631.5,417.5 631.5,415.5 631.5,413.5 631.5,412.5 631.5,410.5 631.5,408.5 631.5,405.5 631.5,401.5 631.5,398.5 631.5,396.5 631.5,392.5 633.5,428.5 633.5,426.5 633.5,424.5 633.5,422.5 633.5,420.5 633.5,417.5 633.5,412.5 633.5,410.5 633.5,408.5 633.5,406.5 633.5,405.5 633.5,403.5 633.5,399.5 633.5,396.5 633.5,394.5 633.5,390.5 633.5,389.5 633.5,387.5 633.5,385.5 635.5,424.5 635.5,422.5 635.5,419.5 635.5,417.5 635.5,415.5 635.5,413.5 635.5,412.5 635.5,408.5 635.5,406.5 635.5,405.5 635.5,403.5 635.5,401.5 635.5,399.5 635.5,394.5 635.5,392.5 635.5,390.5 635.5,389.5 638.5,415.5 638.5,413.5 638.5,412.5 638.5,410.5 638.5,408.5 638.5,406.5 638.5,405.5 638.5,403.5 638.5,401.5 638.5,399.5 638.5,398.5 638.5,396.5 638.5,392.5 638.5,389.5 638.5,387.5 638.5,383.5 638.5,382.5 638.5,380.5 640.5,426.5 640.5,424.5 640.5,422.5 640.5,420.5 640.5,417.5 640.5,412.5 640.5,410.5 640.5,405.5 640.5,401.5 640.5,399.5 640.5,392.5 640.5,390.5 640.5,389.5 640.5,387.5 640.5,383.5 640.5,382.5 640.5,380.5 642.5,424.5 642.5,422.5 642.5,420.5 642.5,419.5 642.5,417.5 642.5,415.5 642.5,413.5 642.5,412.5 642.5,410.5 642.5,408.5 642.5,401.5 642.5,399.5 642.5,398.5 642.5,390.5 642.5,389.5 642.5,387.5 644.5,424.5 644.5,422.5 644.5,419.5 644.5,415.5 644.5,413.5 644.5,412.5 644.5,410.5 644.5,408.5 644.5,406.5 644.5,403.5 644.5,401.5 644.5,399.5 644.5,398.5 644.5,396.5 644.5,392.5 644.5,390.5 644.5,387.5 644.5,385.5 644.5,383.5 644.5,380.5 646.5,420.5 646.5,419.5 646.5,417.5 646.5,415.5 646.5,408.5 646.5,406.5 646.5,405.5 646.5,401.5 646.5,398.5 646.5,396.5 646.5,394.5 646.5,389.5 646.5,387.5 646.5,385.5 646.5,383.5 646.5,382.5 648.5,420.5 648.5,419.5 648.5,417.5 648.5,415.5 648.5,413.5 648.5,412.5 648.5,410.5 648.5,406.5 648.5,401.5 648.5,399.5 648.5,398.5 648.5,396.5 648.5,394.5 648.5,392.5 648.5,390.5 648.5,389.5 648.5,387.5 648.5,385.5 648.5,382.5 650.5,422.5 650.5,420.5 650.5,419.5 650.5,415.5 650.5,408.5 650.5,403.5 650.5,399.5 650.5,398.5 650.5,396.5 650.5,394.5 650.5,392.5 650.5,390.5 650.5,389.5 650.5,387.5 650.5,385.5 650.5,383.5 652.5,424.5 652.5,422.5 652.5,419.5 652.5,417.5 652.5,415.5 652.5,413.5 652.5,412.5 652.5,410.5 652.5,408.5 652.5,406.5 652.5,401.5 652.5,396.5 652.5,390.5 652.5,387.5 652.5,385.5 654.5,442.5 654.5,440.5 654.5,438.5 654.5,436.5 654.5,435.5 654.5,433.5 654.5,431.5 654.5,428.5 654.5,426.5 654.5,424.5 654.5,422.5 654.5,420.5 654.5,419.5 654.5,417.5 654.5,415.5 654.5,413.5 654.5,412.5 654.5,410.5 654.5,408.5 654.5,405.5 654.5,403.5 654.5,401.5 654.5,399.5 654.5,398.5 654.5,396.5 654.5,392.5 654.5,390.5 654.5,387.5 654.5,385.5 654.5,382.5 654.5,380.5 657.5,442.5 657.5,438.5 657.5,436.5 657.5,435.5 657.5,433.5 657.5,431.5 657.5,429.5 657.5,428.5 657.5,422.5 657.5,420.5 657.5,417.5 657.5,415.5 657.5,413.5 657.5,412.5 657.5,408.5 657.5,406.5 657.5,405.5 657.5,403.5 657.5,401.5 657.5,399.5 659.5,442.5 659.5,440.5 659.5,438.5 659.5,433.5 659.5,429.5 659.5,428.5 659.5,426.5 659.5,422.5 659.5,420.5 659.5,419.5 659.5,410.5 659.5,403.5 659.5,401.5 659.5,399.5 661.5,426.5 661.5,420.5 661.5,415.5 661.5,413.5 661.5,410.5 661.5,408.5 661.5,405.5 661.5,401.5 661.5,399.5 663.5,429.5 663.5,428.5 663.5,426.5 663.5,424.5 663.5,422.5 663.5,420.5 663.5,417.5 663.5,412.5 663.5,410.5 663.5,408.5 663.5,406.5 663.5,403.5 663.5,401.5 663.5,399.5 665.5,431.5 665.5,429.5 665.5,428.5 665.5,422.5 665.5,420.5 665.5,417.5 665.5,415.5 665.5,413.5 665.5,412.5 665.5,410.5 665.5,406.5 665.5,403.5 665.5,401.5 667.5,420.5 667.5,419.5 667.5,417.5 667.5,413.5 667.5,412.5 667.5,410.5 667.5,408.5 667.5,406.5 667.5,405.5 667.5,403.5 667.5,401.5 669.5,431.5 669.5,429.5 669.5,424.5 669.5,422.5 669.5,417.5 669.5,415.5 669.5,413.5 669.5,412.5 669.5,408.5 669.5,406.5 669.5,405.5 669.5,401.5 669.5,399.5 669.5,398.5 669.5,396.5 669.5,392.5 669.5,390.5 669.5,389.5 671.5,435.5 671.5,431.5 671.5,429.5 671.5,424.5 671.5,422.5 671.5,419.5 671.5,417.5 671.5,412.5 671.5,408.5 671.5,405.5 671.5,403.5 671.5,401.5 671.5,399.5 671.5,398.5 671.5,396.5 671.5,394.5 671.5,392.5 671.5,390.5 671.5,389.5 671.5,387.5 671.5,385.5 673.5,431.5 673.5,428.5 673.5,424.5 673.5,422.5 673.5,420.5 673.5,417.5 673.5,415.5 673.5,412.5 673.5,406.5 673.5,405.5 673.5,401.5 673.5,399.5 673.5,394.5 673.5,392.5 673.5,390.5 673.5,389.5 675.5,436.5 675.5,433.5 675.5,429.5 675.5,428.5 675.5,426.5 675.5,422.5 675.5,420.5 675.5,415.5 675.5,412.5 675.5,406.5 675.5,405.5 675.5,403.5 675.5,401.5 675.5,399.5 675.5,396.5 675.5,394.5 675.5,392.5 675.5,390.5 675.5,389.5 675.5,387.5 675.5,385.5 678.5,429.5 678.5,428.5 678.5,426.5 678.5,424.5 678.5,422.5 678.5,420.5 678.5,419.5 678.5,417.5 678.5,415.5 678.5,413.5 678.5,412.5 678.5,410.5 678.5,408.5 678.5,405.5 678.5,401.5 678.5,398.5 678.5,394.5 678.5,390.5 678.5,389.5 678.5,387.5 678.5,385.5 678.5,383.5 680.5,424.5 680.5,422.5 680.5,420.5 680.5,419.5 680.5,417.5 680.5,415.5 680.5,413.5 680.5,412.5 680.5,410.5 680.5,408.5 680.5,406.5 680.5,405.5 680.5,399.5 680.5,398.5 680.5,394.5 680.5,390.5 680.5,389.5 680.5,387.5 682.5,426.5 682.5,420.5 682.5,417.5 682.5,415.5 682.5,413.5 682.5,412.5 682.5,410.5 682.5,408.5 682.5,406.5 682.5,405.5 682.5,403.5 682.5,401.5 682.5,399.5 682.5,398.5 682.5,396.5 682.5,394.5 682.5,390.5 682.5,389.5 682.5,387.5 684.5,426.5 684.5,424.5 684.5,422.5 684.5,420.5 684.5,419.5 684.5,417.5 684.5,413.5 684.5,410.5 684.5,406.5 684.5,405.5 684.5,401.5 684.5,399.5 684.5,398.5 684.5,396.5 684.5,394.5 684.5,392.5 684.5,390.5 684.5,389.5 684.5,385.5 684.5,383.5 684.5,382.5 684.5,380.5 686.5,420.5 686.5,417.5 686.5,415.5 686.5,413.5 686.5,412.5 686.5,403.5 686.5,401.5 686.5,399.5 686.5,398.5 686.5,396.5 686.5,392.5 686.5,390.5 686.5,389.5 686.5,387.5 686.5,385.5 686.5,380.5 688.5,428.5 688.5,426.5 688.5,424.5 688.5,420.5 688.5,419.5 688.5,413.5 688.5,412.5 688.5,408.5 688.5,406.5 688.5,405.5 688.5,403.5 688.5,401.5 688.5,398.5 688.5,394.5 688.5,392.5 688.5,390.5 688.5,389.5 688.5,383.5 690.5,412.5 690.5,410.5 690.5,408.5 690.5,406.5 690.5,405.5 690.5,403.5 690.5,401.5 690.5,399.5 690.5,398.5 690.5,396.5 690.5,394.5 690.5,392.5 690.5,390.5 690.5,389.5 690.5,387.5 690.5,383.5 690.5,382.5 690.5,380.5 690.5,378.5 690.5,376.5 690.5,375.5 692.5,424.5 692.5,420.5 692.5,419.5 692.5,417.5 692.5,415.5 692.5,413.5 692.5,410.5 692.5,405.5 692.5,403.5 692.5,401.5 692.5,394.5 692.5,390.5 692.5,389.5 692.5,387.5 692.5,385.5 692.5,383.5 692.5,382.5 692.5,380.5 692.5,378.5 692.5,376.5 694.5,424.5 694.5,422.5 694.5,420.5 694.5,419.5 694.5,413.5 694.5,412.5 694.5,410.5 694.5,408.5 694.5,406.5 694.5,405.5 694.5,403.5 694.5,399.5 694.5,394.5 694.5,392.5 694.5,390.5 694.5,389.5 694.5,385.5 694.5,383.5 694.5,380.5 694.5,378.5 694.5,376.5 697.5,419.5 697.5,417.5 697.5,413.5 697.5,412.5 697.5,408.5 697.5,405.5 697.5,403.5 697.5,399.5 697.5,396.5 697.5,390.5 697.5,387.5 697.5,383.5 697.5,382.5 697.5,380.5 697.5,378.5 699.5,426.5 699.5,424.5 699.5,422.5 699.5,420.5 699.5,417.5 699.5,415.5 699.5,413.5 699.5,412.5 699.5,406.5 699.5,403.5 699.5,401.5 699.5,399.5 699.5,398.5 699.5,390.5 699.5,389.5 701.5,420.5 701.5,417.5 701.5,415.5 701.5,413.5 701.5,412.5 701.5,410.5 701.5,408.5 701.5,406.5 701.5,405.5 701.5,403.5 701.5,401.5 701.5,399.5 701.5,398.5 701.5,396.5 701.5,394.5 701.5,390.5 701.5,389.5 701.5,387.5 701.5,385.5 701.5,383.5 701.5,382.5 703.5,422.5 703.5,420.5 703.5,419.5 703.5,415.5 703.5,413.5 703.5,412.5 703.5,410.5 703.5,405.5 703.5,403.5 703.5,401.5 703.5,399.5 703.5,398.5 703.5,394.5 703.5,390.5 703.5,389.5 703.5,385.5 703.5,383.5 703.5,382.5 703.5,380.5 703.5,378.5 705.5,424.5 705.5,420.5 705.5,417.5 705.5,415.5 705.5,413.5 705.5,412.5 705.5,410.5 705.5,408.5 705.5,406.5 705.5,405.5 705.5,403.5 705.5,401.5 705.5,399.5 705.5,396.5 705.5,390.5 705.5,389.5 705.5,387.5 705.5,385.5 705.5,382.5 705.5,380.5 707.5,438.5 707.5,435.5 707.5,429.5 707.5,426.5 707.5,424.5 707.5,422.5 707.5,419.5 707.5,417.5 707.5,413.5 707.5,412.5 707.5,410.5 707.5,408.5 707.5,405.5 707.5,396.5 707.5,392.5 707.5,390.5 707.5,389.5 707.5,387.5 707.5,385.5 707.5,383.5 707.5,382.5 709.5,433.5 709.5,431.5 709.5,429.5 709.5,424.5 709.5,420.5 709.5,419.5 709.5,417.5 709.5,412.5 709.5,410.5 709.5,408.5 709.5,406.5 709.5,405.5 709.5,401.5 709.5,399.5 709.5,396.5 709.5,394.5 709.5,392.5 711.5,419.5 711.5,417.5 711.5,415.5 711.5,410.5 711.5,406.5 711.5,405.5 711.5,403.5 711.5,401.5 711.5,399.5 711.5,398.5 711.5,396.5 711.5,394.5 711.5,392.5 711.5,390.5 711.5,389.5 711.5,387.5 711.5,385.5 713.5,422.5 713.5,420.5 713.5,419.5 713.5,417.5 713.5,413.5 713.5,412.5 713.5,406.5 713.5,405.5 713.5,403.5 713.5,401.5 713.5,399.5 713.5,396.5 713.5,394.5 713.5,392.5 713.5,390.5 716.5,422.5 716.5,419.5 716.5,413.5 716.5,412.5 716.5,410.5 716.5,408.5 716.5,406.5 716.5,405.5 716.5,403.5 716.5,399.5 716.5,396.5 716.5,394.5 716.5,392.5 718.5,419.5 718.5,417.5 718.5,413.5 718.5,412.5 718.5,410.5 718.5,408.5 718.5,405.5 718.5,403.5 718.5,401.5 718.5,399.5 718.5,396.5 718.5,394.5 718.5,392.5 718.5,390.5 718.5,389.5 720.5,426.5 720.5,422.5 720.5,419.5 720.5,415.5 720.5,413.5 720.5,412.5 720.5,410.5 720.5,408.5 720.5,406.5 720.5,405.5 720.5,401.5 720.5,399.5 720.5,398.5 720.5,392.5 720.5,390.5 720.5,389.5 720.5,387.5 720.5,385.5 720.5,383.5 720.5,380.5 720.5,378.5 722.5,424.5 722.5,422.5 722.5,420.5 722.5,419.5 722.5,417.5 722.5,415.5 722.5,413.5 722.5,410.5 722.5,408.5 722.5,406.5 722.5,405.5 722.5,401.5 722.5,398.5 722.5,396.5 722.5,394.5 722.5,392.5 722.5,389.5 722.5,385.5 722.5,383.5 722.5,382.5 722.5,380.5 722.5,378.5 724.5,422.5 724.5,420.5 724.5,413.5 724.5,412.5 724.5,408.5 724.5,406.5 724.5,405.5 724.5,403.5 724.5,401.5 724.5,399.5 724.5,398.5 724.5,394.5 724.5,392.5 724.5,389.5 724.5,383.5 724.5,382.5 724.5,380.5 724.5,378.5 724.5,375.5 726.5,417.5 726.5,413.5 726.5,410.5 726.5,408.5 726.5,406.5 726.5,401.5 726.5,399.5 726.5,398.5 726.5,396.5 726.5,394.5 726.5,392.5 726.5,390.5 726.5,389.5 726.5,387.5 726.5,383.5 726.5,382.5 726.5,380.5 726.5,378.5 726.5,375.5 726.5,373.5 726.5,371.5 728.5,417.5 728.5,415.5 728.5,413.5 728.5,408.5 728.5,406.5 728.5,405.5 728.5,403.5 728.5,401.5 728.5,398.5 728.5,394.5 728.5,392.5 728.5,390.5 728.5,389.5 728.5,383.5 728.5,382.5 728.5,378.5 728.5,373.5 728.5,371.5 728.5,369.5 728.5,368.5 728.5,366.5 730.5,422.5 730.5,420.5 730.5,419.5 730.5,417.5 730.5,415.5 730.5,413.5 730.5,410.5 730.5,406.5 730.5,405.5 730.5,403.5 730.5,399.5 730.5,398.5 730.5,394.5 730.5,392.5 730.5,390.5 730.5,387.5 730.5,385.5 730.5,383.5 730.5,382.5 730.5,380.5 730.5,373.5 730.5,369.5 730.5,368.5 730.5,366.5 732.5,428.5 732.5,426.5 732.5,422.5 732.5,419.5 732.5,415.5 732.5,412.5 732.5,410.5 732.5,408.5 732.5,405.5 732.5,403.5 732.5,398.5 732.5,396.5 732.5,394.5 732.5,392.5 732.5,390.5 732.5,389.5 732.5,385.5 732.5,380.5 732.5,378.5 732.5,376.5 732.5,375.5 732.5,373.5 732.5,371.5 732.5,369.5 732.5,368.5 735.5,412.5 735.5,410.5 735.5,408.5 735.5,405.5 735.5,401.5 735.5,398.5 735.5,394.5 735.5,392.5 735.5,390.5 735.5,387.5 735.5,385.5 735.5,383.5 735.5,378.5 735.5,375.5 735.5,371.5 735.5,368.5 735.5,364.5 735.5,362.5 735.5,360.5 735.5,359.5 735.5,357.5 737.5,412.5 737.5,408.5 737.5,406.5 737.5,405.5 737.5,403.5 737.5,401.5 737.5,398.5 737.5,387.5 737.5,385.5 737.5,382.5 737.5,378.5 737.5,376.5 737.5,375.5 737.5,373.5 737.5,371.5 737.5,369.5 737.5,366.5 737.5,364.5 737.5,362.5 737.5,360.5 737.5,359.5 737.5,357.5 737.5,355.5 739.5,413.5 739.5,412.5 739.5,410.5 739.5,408.5 739.5,406.5 739.5,405.5 739.5,401.5 739.5,398.5 739.5,394.5 739.5,392.5 739.5,390.5 739.5,389.5 739.5,387.5 739.5,382.5 739.5,380.5 739.5,378.5 739.5,375.5 739.5,371.5 739.5,369.5 739.5,364.5 739.5,362.5 739.5,360.5 741.5,412.5 741.5,410.5 741.5,408.5 741.5,406.5 741.5,405.5 741.5,403.5 741.5,401.5 741.5,398.5 741.5,394.5 741.5,389.5 741.5,387.5 741.5,385.5 741.5,383.5 741.5,382.5 741.5,380.5 741.5,378.5 741.5,376.5 741.5,375.5 741.5,373.5 741.5,366.5 741.5,364.5 743.5,424.5 743.5,420.5 743.5,419.5 743.5,417.5 743.5,415.5 743.5,413.5 743.5,412.5 743.5,410.5 743.5,406.5 743.5,405.5 743.5,401.5 743.5,396.5 743.5,394.5 743.5,389.5 743.5,387.5 743.5,385.5 743.5,378.5 743.5,376.5 743.5,373.5 743.5,371.5 743.5,369.5 743.5,366.5 745.5,424.5 745.5,422.5 745.5,420.5 745.5,419.5 745.5,417.5 745.5,415.5 745.5,413.5 745.5,412.5 745.5,410.5 745.5,406.5 745.5,405.5 745.5,399.5 745.5,398.5 745.5,394.5 745.5,392.5 745.5,390.5 745.5,387.5 745.5,385.5 745.5,382.5 745.5,380.5 745.5,375.5 745.5,373.5 745.5,369.5 745.5,368.5 745.5,366.5 747.5,415.5 747.5,413.5 747.5,412.5 747.5,410.5 747.5,406.5 747.5,403.5 747.5,394.5 747.5,392.5 747.5,389.5 747.5,387.5 747.5,383.5 747.5,382.5 747.5,380.5 749.5,408.5 749.5,406.5 749.5,405.5 749.5,403.5 749.5,401.5 749.5,399.5 749.5,396.5 749.5,394.5 749.5,387.5 749.5,385.5 749.5,383.5 749.5,382.5 751.5,415.5 751.5,413.5 751.5,412.5 751.5,410.5 751.5,408.5 751.5,406.5 751.5,405.5 751.5,401.5 751.5,399.5 751.5,398.5 751.5,396.5 751.5,394.5 751.5,392.5 751.5,390.5 751.5,389.5 751.5,387.5 751.5,385.5 751.5,383.5 751.5,382.5 751.5,380.5 751.5,378.5 751.5,376.5 751.5,375.5 751.5,373.5 751.5,371.5 751.5,369.5 751.5,368.5 754.5,417.5 754.5,415.5 754.5,413.5 754.5,410.5 754.5,408.5 754.5,406.5 754.5,405.5 754.5,403.5 754.5,401.5 754.5,399.5 754.5,398.5 754.5,396.5 754.5,392.5 754.5,390.5 754.5,389.5 754.5,385.5 754.5,382.5 754.5,376.5 754.5,368.5 754.5,366.5 756.5,410.5 756.5,406.5 756.5,405.5 756.5,403.5 756.5,401.5 756.5,398.5 756.5,396.5 756.5,394.5 756.5,392.5 756.5,389.5 756.5,387.5 756.5,385.5 756.5,383.5 758.5,410.5 758.5,408.5 758.5,406.5 758.5,405.5 758.5,401.5 758.5,399.5 758.5,398.5 758.5,396.5 758.5,394.5 758.5,392.5 758.5,390.5 758.5,389.5 758.5,385.5 758.5,383.5 758.5,382.5 758.5,378.5 758.5,376.5 760.5,420.5 760.5,419.5 760.5,417.5 760.5,415.5 760.5,413.5 760.5,412.5 760.5,410.5 760.5,405.5 760.5,403.5 760.5,401.5 760.5,399.5 760.5,398.5 760.5,396.5 760.5,394.5 760.5,392.5 760.5,390.5 760.5,389.5 760.5,387.5 760.5,385.5 760.5,383.5 760.5,382.5 760.5,378.5 760.5,376.5 760.5,375.5 760.5,371.5 760.5,369.5 760.5,368.5 760.5,366.5 760.5,364.5 762.5,415.5 762.5,412.5 762.5,410.5 762.5,408.5 762.5,406.5 762.5,405.5 762.5,401.5 762.5,398.5 762.5,396.5 762.5,394.5 762.5,392.5 762.5,389.5 762.5,385.5 762.5,383.5 762.5,378.5 762.5,376.5 762.5,375.5 762.5,371.5 762.5,368.5 762.5,366.5 762.5,364.5 762.5,360.5 764.5,415.5 764.5,413.5 764.5,412.5 764.5,410.5 764.5,408.5 764.5,406.5 764.5,405.5 764.5,401.5 764.5,399.5 764.5,398.5 764.5,396.5 764.5,394.5 764.5,392.5 764.5,390.5 764.5,389.5 764.5,387.5 764.5,385.5 766.5,415.5 766.5,412.5 766.5,408.5 766.5,405.5 766.5,403.5 766.5,401.5 766.5,398.5 766.5,396.5 766.5,394.5 766.5,392.5 766.5,390.5 766.5,389.5 766.5,387.5 768.5,415.5 768.5,413.5 768.5,412.5 768.5,410.5 768.5,408.5 768.5,406.5 768.5,405.5 768.5,398.5 768.5,396.5 768.5,394.5 768.5,392.5 768.5,389.5 768.5,385.5 770.5,405.5 770.5,403.5 770.5,401.5 770.5,399.5 770.5,398.5 770.5,396.5 773.5,433.5 773.5,431.5 773.5,429.5 773.5,428.5 773.5,426.5 773.5,424.5 773.5,422.5 773.5,420.5 773.5,419.5 773.5,417.5 773.5,415.5 773.5,413.5 773.5,410.5 773.5,408.5 773.5,406.5 773.5,405.5 773.5,403.5 773.5,401.5 773.5,399.5 773.5,398.5 773.5,394.5 773.5,390.5 773.5,387.5 775.5,428.5 775.5,424.5 775.5,420.5 775.5,419.5 775.5,417.5 775.5,415.5 775.5,413.5 775.5,412.5 775.5,408.5 775.5,406.5 775.5,401.5 775.5,398.5 775.5,396.5 775.5,394.5 775.5,390.5 775.5,389.5 775.5,387.5 775.5,385.5 775.5,383.5 775.5,382.5 775.5,378.5 775.5,376.5 777.5,417.5 777.5,415.5 777.5,413.5 777.5,412.5 777.5,408.5 777.5,406.5 777.5,405.5 777.5,403.5 777.5,401.5 777.5,399.5 777.5,398.5 777.5,394.5 777.5,390.5 777.5,389.5 777.5,385.5 777.5,382.5 777.5,380.5 777.5,378.5 777.5,376.5 779.5,422.5 779.5,420.5 779.5,415.5 779.5,413.5 779.5,412.5 779.5,408.5 779.5,406.5 779.5,405.5 779.5,403.5 779.5,401.5 779.5,399.5 779.5,398.5 779.5,396.5 779.5,394.5 779.5,392.5 779.5,390.5 779.5,389.5 779.5,387.5 779.5,385.5 779.5,380.5 779.5,378.5 779.5,376.5 779.5,375.5"/>
<polyline marker-start="url(#m)" marker-mid="url(#m)" marker-end="url(#m)" points="199.1,408.6 199.1,401.6 199.1,357.4 199.1,355.7 199.1,205.6 201.2,399.8 201.2,352.1 201.2,350.4 201.2,341.5 201.2,330.9 201.2,216.2 203.3,429.8 203.3,428 203.3,426.3 203.3,424.5 203.3,422.7 203.3,421 203.3,419.2 203.3,417.5 203.3,415.7 203.3,413.9 203.3,412.2 203.3,410.4 203.3,406.9 203.3,405.1 203.3,357.4 203.3,355.7 203.3,350.4 203.3,233.8 205.5,405.1 205.5,403.3 205.5,353.9 205.5,339.8 205.5,186.2 207.6,408.6 207.6,405.1 207.6,403.3 207.6,357.4 207.6,355.7 207.6,352.1 207.6,235.6 209.7,424.5 209.7,422.7 209.7,421 209.7,419.2 209.7,417.5 209.7,353.9 209.7,352.1 209.7,350.4 209.7,207.3 211.8,419.2 211.8,352.1 211.8,350.4 211.8,177.3 213.9,424.5 213.9,422.7 213.9,421 213.9,417.5 213.9,348.6 213.9,346.8 216,417.5 216,413.9 216,412.2 216,355.7 216,352.1 216,345.1 216,187.9 218.1,362.7 218.1,361 218.1,355.7 218.1,202 220.2,426.3 220.2,424.5 220.2,422.7 220.2,421 220.2,419.2 220.2,417.5 220.2,415.7 220.2,413.9 220.2,412.2 220.2,410.4 220.2,408.6 220.2,359.2 220.2,357.4 220.2,210.9 222.3,415.7 222.3,413.9 222.3,412.2 222.3,357.4 222.3,355.7 222.3,353.9 222.3,345.1 222.3,322.1 222.3,200.3 224.4,410.4 224.4,408.6 224.4,369.8 224.4,368 224.4,366.2 224.4,361 226.6,366.2 226.6,364.5 226.6,219.7 228.7,408.6 228.7,405.1 228.7,403.3 228.7,361 228.7,359.2 230.8,359.2 230.8,357.4 230.8,353.9 230.8,187.9 232.9,431.6 232.9,429.8 232.9,428 232.9,426.3 232.9,424.5 232.9,422.7 232.9,421 232.9,419.2 232.9,417.5 232.9,415.7 232.9,413.9 232.9,412.2 232.9,355.7 232.9,353.9 232.9,352.1 232.9,346.8 232.9,219.7 235,421 235,419.2 235,357.4 235,355.7 235,195 237.1,421 237.1,413.9 237.1,389.2 237.1,255 239.2,415.7 239.2,413.9 239.2,389.2 239.2,387.4 239.2,385.7 241.3,417.5 241.3,415.7 241.3,405.1 241.3,403.3 243.4,422.7 243.4,419.2 243.4,398 243.4,396.3 245.5,419.2 245.5,415.7 247.7,419.2 247.7,417.5 247.7,410.4 247.7,408.6 249.8,421 249.8,419.2 249.8,412.2 249.8,410.4 251.9,419.2 251.9,417.5 251.9,380.4 254,431.6 254,429.8 254,428 254,426.3 254,424.5 254,422.7 254,387.4 254,385.7 254,380.4 254,378.6 254,297.4 256.1,415.7 256.1,413.9 256.1,383.9 256.1,382.1 256.1,380.4 256.1,242.7 258.2,422.7 258.2,421 258.2,389.2 258.2,387.4 258.2,383.9 258.2,251.5 260.3,436.9 260.3,435.1 260.3,433.3 260.3,431.6 260.3,429.8 260.3,426.3 260.3,424.5 260.3,422.7 260.3,421 260.3,419.2 260.3,387.4 260.3,385.7 260.3,378.6 262.4,422.7 262.4,417.5 262.4,415.7 262.4,398 262.4,392.7 262.4,391 262.4,249.7 264.5,422.7 264.5,421 264.5,385.7 264.5,233.8 266.6,429.8 266.6,424.5 266.6,422.7 266.6,417.5 266.6,415.7 266.6,413.9 266.6,412.2 266.6,394.5 266.6,392.7 266.6,391 268.8,426.3 268.8,419.2 268.8,382.1 268.8,242.7 270.9,421 270.9,417.5 270.9,415.7 270.9,380.4 270.9,378.6 270.9,373.3 270.9,364.5 270.9,355.7 270.9,352.1 270.9,230.3 273,452.8 273,422.7 273,385.7 273,383.9 273,382.1 273,364.5 273,237.4 275.1,415.7 275.1,387.4 275.1,385.7 275.1,378.6 275.1,228.5 277.2,417.5 277.2,410.4 277.2,382.1 277.2,380.4 277.2,242.7 279.3,410.4 279.3,383.9 279.3,382.1 279.3,380.4 279.3,235.6 281.4,408.6 281.4,380.4 281.4,378.6 281.4,375.1 281.4,371.5 281.4,364.5 281.4,223.2 283.5,419.2 283.5,413.9 283.5,412.2 283.5,380.4 283.5,378.6 283.5,376.8 283.5,240.9 285.6,413.9 285.6,410.4 285.6,408.6 285.6,382.1 285.6,380.4 285.6,376.8 285.6,371.5 285.6,366.2 285.6,228.5 287.8,426.3 287.8,380.4 287.8,376.8 287.8,375.1 287.8,281.5 289.9,436.9 289.9,435.1 289.9,375.1 289.9,373.3 289.9,366.2 292,440.4 292,436.9 292,435.1 292,371.5 292,369.8 292,285 294.1,429.8 294.1,428 294.1,380.4 294.1,378.6 294.1,376.8 294.1,357.4 294.1,343.3 294.1,292.1 296.2,417.5 296.2,415.7 296.2,413.9 296.2,412.2 296.2,369.8 296.2,368 296.2,366.2 296.2,361 296.2,209.1 298.3,410.4 298.3,408.6 298.3,373.3 298.3,371.5 298.3,368 298.3,225 300.4,412.2 300.4,410.4 300.4,373.3 300.4,371.5 300.4,364.5 300.4,195 302.5,433.3 302.5,431.6 302.5,429.8 302.5,428 302.5,426.3 302.5,424.5 302.5,422.7 302.5,421 302.5,419.2 302.5,375.1 302.5,373.3 302.5,371.5 302.5,369.8 302.5,269.1 304.6,426.3 304.6,422.7 304.6,421 304.6,376.8 304.6,373.3 304.6,244.4 306.7,458.1 306.7,422.7 306.7,417.5 306.7,389.2 306.7,387.4 306.7,355.7 308.9,424.5 308.9,419.2 308.9,382.1 308.9,380.4 308.9,376.8 308.9,375.1 311,421 311,419.2 311,382.1 311,380.4 311,225 313.1,424.5 313.1,422.7 313.1,421 313.1,383.9 313.1,382.1 313.1,233.8 315.2,417.5 315.2,415.7 315.2,376.8 315.2,375.1 317.3,417.5 317.3,415.7 317.3,376.8 317.3,375.1 317.3,249.7 319.4,421 319.4,419.2 319.4,383.9 319.4,382.1 319.4,378.6 319.4,242.7 321.5,429.8 321.5,428 321.5,426.3 321.5,424.5 321.5,421 321.5,382.1 321.5,380.4 321.5,355.7 321.5,262.1 323.6,422.7 323.6,421 323.6,383.9 323.6,255 325.7,419.2 325.7,415.7 325.7,378.6 325.7,376.8 325.7,375.1 325.7,221.5 327.8,415.7 327.8,383.9 327.8,382.1 329.9,419.2 329.9,417.5 329.9,376.8 329.9,375.1 329.9,373.3 329.9,371.5 329.9,366.2 329.9,242.7 332.1,415.7 332.1,380.4 332.1,378.6 332.1,237.4 334.2,436.9 334.2,435.1 334.2,433.3 334.2,431.6 334.2,426.3 334.2,424.5 334.2,421 334.2,419.2 334.2,413.9 334.2,410.4 334.2,408.6 334.2,352.1 334.2,350.4 334.2,221.5 336.3,401.6 336.3,348.6 336.3,346.8 336.3,209.1 338.4,408.6 338.4,406.9 338.4,405.1 338.4,352.1 338.4,350.4 338.4,348.6 338.4,177.3 340.5,412.2 340.5,408.6 340.5,359.2 340.5,357.4 340.5,157.9 342.6,408.6 342.6,406.9 342.6,403.3 342.6,357.4 342.6,355.7 342.6,336.2 342.6,203.8 344.7,422.7 344.7,421 344.7,419.2 344.7,417.5 344.7,415.7 344.7,413.9 344.7,412.2 344.7,410.4 344.7,357.4 344.7,355.7 344.7,348.6 344.7,173.8 346.8,406.9 346.8,405.1 346.8,403.3 346.8,355.7 346.8,353.9 346.8,352.1 346.8,191.5 348.9,406.9 348.9,403.3 348.9,401.6 348.9,357.4 348.9,353.9 348.9,196.7 351,408.6 351,406.9 351,353.9 351,352.1 351,350.4 351,205.6 353.2,406.9 353.2,405.1 353.2,359.2 353.2,191.5 355.3,417.5 355.3,415.7 355.3,369.8 355.3,368 355.3,364.5 355.3,180.9 357.4,429.8 357.4,428 357.4,426.3 357.4,424.5 357.4,362.7 357.4,361 357.4,210.9 359.5,410.4 359.5,408.6 359.5,369.8 359.5,228.5 361.6,435.1 361.6,429.8 361.6,428 361.6,426.3 361.6,366.2 361.6,364.5 361.6,362.7 361.6,292.1 363.7,458.1 363.7,424.5 363.7,419.2 363.7,417.5 363.7,361 363.7,359.2 363.7,357.4 363.7,193.2 365.8,417.5 365.8,415.7 365.8,412.2 365.8,361 365.8,359.2 367.9,422.7 367.9,362.7 367.9,361 370,394.5 370,392.7 370,352.1 370,350.4 370,348.6 370,346.8 370,226.8 372.1,398 372.1,396.3 372.1,394.5 372.1,353.9 372.1,352.1 372.1,350.4 374.3,413.9 374.3,410.4 374.3,408.6 374.3,366.2 374.3,364.5 374.3,207.3 376.4,458.1 376.4,415.7 376.4,413.9 376.4,412.2 376.4,410.4 376.4,408.6 376.4,406.9 376.4,376.8 376.4,369.8 376.4,217.9 378.5,413.9 378.5,412.2 378.5,410.4 378.5,376.8 378.5,375.1 378.5,373.3 378.5,242.7 380.6,406.9 380.6,401.6 380.6,399.8 380.6,376.8 380.6,373.3 380.6,371.5 380.6,255 382.7,413.9 382.7,371.5 382.7,369.8 382.7,362.7 382.7,223.2 384.8,406.9 384.8,405.1 384.8,403.3 384.8,376.8 384.8,375.1 384.8,225 386.9,408.6 386.9,406.9 386.9,376.8 386.9,375.1 386.9,371.5 386.9,230.3 389,421 389,419.2 389,413.9 389,412.2 389,378.6 389,376.8 389,375.1 389,240.9 391.1,426.3 391.1,424.5 391.1,382.1 391.1,378.6 391.1,375.1 391.1,246.2 393.2,458.1 393.2,422.7 393.2,371.5 393.2,369.8 393.2,368 393.2,332.7 393.2,209.1 395.4,429.8 395.4,428 395.4,426.3 395.4,373.3 395.4,371.5 395.4,369.8 395.4,368 395.4,366.2 395.4,362.7 395.4,230.3 397.5,431.6 397.5,426.3 397.5,424.5 397.5,373.3 397.5,371.5 397.5,239.1 399.6,392.7 399.6,387.4 401.7,419.2 401.7,417.5 401.7,373.3 401.7,371.5 401.7,366.2 403.8,429.8 403.8,428 403.8,424.5 403.8,378.6 403.8,376.8 403.8,375.1 403.8,373.3 405.9,413.9 405.9,412.2 405.9,410.4 405.9,375.1 405.9,371.5 405.9,369.8 405.9,366.2 405.9,364.5 408,436.9 408,417.5 408,415.7 408,380.4 408,378.6 408,376.8 408,348.6 408,232.1 410.1,417.5 410.1,415.7 410.1,413.9 410.1,412.2 410.1,410.4 410.1,408.6 410.1,406.9 410.1,375.1 410.1,189.7 412.2,408.6 412.2,375.1 412.2,373.3 412.2,193.2 414.3,461.6 414.3,413.9 414.3,392.7 414.3,391 414.3,313.3 414.3,221.5 416.5,419.2 416.5,383.9 416.5,382.1 416.5,380.4 416.5,235.6 418.6,406.9 418.6,405.1 418.6,403.3 418.6,375.1 418.6,373.3 418.6,232.1 420.7,405.1 420.7,401.6 420.7,399.8 420.7,398 420.7,376.8 420.7,375.1 420.7,373.3 420.7,223.2 422.8,406.9 422.8,405.1 422.8,403.3 422.8,373.3 422.8,371.5 422.8,217.9 424.9,403.3 424.9,401.6 424.9,399.8 424.9,398 424.9,396.3 424.9,371.5 424.9,369.8 424.9,368 424.9,221.5 427,398 427,394.5 427,376.8 427,226.8 429.1,408.6 429.1,406.9 429.1,405.1 429.1,376.8 429.1,375.1 431.2,403.3 431.2,369.8 431.2,235.6 433.3,459.8 433.3,433.3 433.3,431.6 433.3,429.8 433.3,426.3 433.3,424.5 433.3,422.7 433.3,421 433.3,419.2 433.3,417.5 433.3,415.7 433.3,371.5 433.3,369.8 433.3,368 433.3,366.2 433.3,270.9 435.4,421 435.4,373.3 435.4,371.5 435.4,366.2 437.6,417.5 437.6,415.7 437.6,359.2 437.6,357.4 437.6,232.1 439.7,413.9 439.7,352.1 439.7,350.4 439.7,343.3 439.7,253.2 441.8,419.2 441.8,352.1 441.8,350.4 441.8,348.6 441.8,345.1 441.8,202 443.9,361 443.9,359.2 443.9,355.7 443.9,353.9 443.9,214.4 446,429.8 446,426.3 446,424.5 446,422.7 446,353.9 446,352.1 446,189.7 448.1,447.5 448.1,435.1 448.1,424.5 448.1,421 448.1,353.9 448.1,345.1 448.1,334.5 448.1,332.7 448.1,329.2 448.1,322.1 448.1,237.4 448.1,217.9 450.2,392.7 450.2,361 450.2,359.2 450.2,352.1 450.2,225 452.3,391 452.3,389.2 452.3,361 452.3,355.7 452.3,200.3 454.4,389.2 454.4,353.9 454.4,352.1 454.4,182.6 456.5,401.6 456.5,399.8 456.5,394.5 456.5,355.7 456.5,353.9 456.5,202 458.7,461.6 458.7,458.1 458.7,452.8 458.7,447.5 458.7,436.9 458.7,431.6 458.7,413.9 458.7,412.2 458.7,410.4 458.7,406.9 458.7,405.1 458.7,403.3 458.7,401.6 458.7,398 458.7,392.7 458.7,357.4 458.7,355.7 458.7,332.7 458.7,316.8 458.7,306.2 458.7,299.2 458.7,193.2 460.8,403.3 460.8,399.8 460.8,355.7 460.8,353.9 460.8,346.8 460.8,189.7 462.9,449.2 462.9,440.4 462.9,403.3 462.9,401.6 462.9,361 462.9,359.2 462.9,353.9 465,403.3 465,401.6 465,399.8 465,361 465,359.2 465,357.4 465,196.7 467.1,405.1 467.1,399.8 467.1,364.5 467.1,362.7 467.1,209.1 469.2,408.6 469.2,406.9 469.2,361 469.2,359.2 469.2,357.4 469.2,219.7 471.3,463.4 471.3,454.5 471.3,406.9 471.3,352.1 471.3,350.4 471.3,345.1 471.3,172 473.4,413.9 473.4,408.6 473.4,406.9 473.4,352.1 473.4,350.4 473.4,248 475.5,417.5 475.5,353.9 475.5,352.1 475.5,350.4 475.5,193.2 477.6,461.6 477.6,447.5 477.6,443.9 477.6,428 477.6,424.5 477.6,422.7 477.6,421 477.6,419.2 477.6,417.5 477.6,415.7 477.6,357.4 477.6,348.6 477.6,336.2 477.6,318.6 477.6,221.5 479.8,431.6 479.8,424.5 479.8,422.7 479.8,383.9 479.8,382.1 479.8,380.4 481.9,421 481.9,419.2 481.9,417.5 481.9,376.8 481.9,375.1 481.9,373.3 481.9,369.8 481.9,368 481.9,244.4 484,417.5 484,415.7 484,382.1 484,380.4 484,378.6 484,233.8 486.1,417.5 486.1,413.9 486.1,412.2 486.1,368 486.1,246.2 488.2,403.3 488.2,359.2 488.2,357.4 488.2,355.7 488.2,242.7 490.3,408.6 490.3,405.1 490.3,362.7 490.3,361 490.3,359.2 490.3,357.4 490.3,219.7 492.4,458.1 492.4,408.6 492.4,401.6 492.4,399.8 492.4,355.7 492.4,353.9 492.4,352.1 492.4,293.9 492.4,193.2 494.5,403.3 494.5,398 494.5,396.3 494.5,352.1 494.5,350.4 494.5,348.6 494.5,346.8 494.5,345.1 494.5,343.3 494.5,200.3 496.6,454.5 496.6,401.6 496.6,399.8 496.6,350.4 496.6,348.6 496.6,346.8 496.6,343.3 496.6,293.9 496.6,180.9 498.7,392.7 498.7,391 498.7,359.2 498.7,357.4 500.9,405.1 500.9,401.6 500.9,398 500.9,353.9 500.9,350.4 500.9,182.6 503,391 503,389.2 503,355.7 503,353.9 503,172 505.1,398 505.1,394.5 505.1,345.1 505.1,343.3 505.1,341.5 505.1,339.8 505.1,200.3 507.2,413.9 507.2,412.2 507.2,410.4 507.2,408.6 507.2,406.9 507.2,403.3 507.2,343.3 507.2,341.5 507.2,179.1 509.3,399.8 509.3,345.1 509.3,343.3 509.3,154.4 511.4,456.3 511.4,424.5 511.4,396.3 511.4,316.8 511.4,315 511.4,313.3 511.4,309.7 511.4,198.5 513.5,424.5 513.5,422.7 513.5,421 513.5,419.2 513.5,417.5 513.5,415.7 513.5,413.9 513.5,412.2 513.5,410.4 513.5,408.6 513.5,406.9 513.5,405.1 513.5,403.3 513.5,401.6 513.5,399.8 513.5,398 513.5,323.9 513.5,309.7 513.5,135 515.6,424.5 515.6,422.7 515.6,419.2 515.6,417.5 515.6,415.7 515.6,413.9 515.6,410.4 515.6,408.6 515.6,406.9 515.6,405.1 515.6,403.3 515.6,401.6 515.6,398 515.6,316.8 515.6,315 517.7,396.3 517.7,394.5 517.7,315 517.7,313.3 517.7,311.5 517.7,308 517.7,306.2 517.7,304.5 517.7,157.9 519.8,399.8 519.8,398 519.8,320.3 519.8,318.6 519.8,316.8 519.8,110.2 522,447.5 522,391 522,387.4 522,385.7 522,329.2 522,327.4 522,325.6 522,323.9 522,272.7 522,143.8 524.1,424.5 524.1,391 524.1,387.4 524.1,385.7 524.1,330.9 524.1,329.2 524.1,309.7 524.1,127.9 526.2,459.8 526.2,442.2 526.2,406.9 526.2,405.1 526.2,403.3 526.2,401.6 526.2,399.8 526.2,398 526.2,396.3 526.2,394.5 526.2,392.7 526.2,389.2 526.2,387.4 526.2,385.7 526.2,383.9 526.2,338 526.2,336.2 526.2,311.5 526.2,288.6 526.2,143.8 528.3,433.3 528.3,378.6 528.3,376.8 528.3,341.5 528.3,339.8 528.3,338 528.3,336.2 528.3,325.6 528.3,279.7 528.3,157.9 530.4,383.9 530.4,382.1 530.4,380.4 530.4,338 530.4,336.2 530.4,332.7 530.4,150.8 532.5,449.2 532.5,385.7 532.5,382.1 532.5,380.4 532.5,338 532.5,336.2 532.5,334.5 532.5,292.1 532.5,145.5 534.6,389.2 534.6,385.7 534.6,346.8 534.6,345.1 534.6,184.4 536.7,438.6 536.7,392.7 536.7,389.2 536.7,383.9 536.7,346.8 536.7,345.1 536.7,343.3 536.7,269.1 536.7,180.9 538.8,463.4 538.8,438.6 538.8,387.4 538.8,382.1 538.8,380.4 538.8,355.7 538.8,353.9 538.8,348.6 538.8,195 541,458.1 541,435.1 541,385.7 541,383.9 541,382.1 541,380.4 541,350.4 541,348.6 541,186.2 543.1,396.3 543.1,394.5 543.1,327.4 543.1,325.6 543.1,323.9 543.1,202 545.2,417.5 545.2,410.4 545.2,408.6 545.2,406.9 545.2,403.3 545.2,401.6 545.2,399.8 545.2,398 545.2,396.3 545.2,394.5 545.2,338 545.2,336.2 545.2,332.7 545.2,212.6 547.3,463.4 547.3,401.6 547.3,399.8 547.3,398 547.3,327.4 547.3,325.6 547.3,274.4 547.3,170.3 549.4,415.7 549.4,413.9 549.4,412.2 549.4,408.6 549.4,406.9 549.4,405.1 549.4,403.3 549.4,401.6 549.4,398 549.4,396.3 549.4,394.5 549.4,330.9 549.4,329.2 549.4,327.4 549.4,180.9 551.5,447.5 551.5,443.9 551.5,385.7 551.5,320.3 551.5,318.6 551.5,316.8 551.5,260.3 553.6,459.8 553.6,433.3 553.6,398 553.6,392.7 553.6,391 553.6,389.2 553.6,323.9 553.6,320.3 553.6,299.2 553.6,149.1 555.7,389.2 555.7,325.6 555.7,323.9 555.7,124.4 557.8,454.5 557.8,433.3 557.8,382.1 557.8,327.4 557.8,325.6 557.8,323.9 557.8,166.7 559.9,380.4 559.9,327.4 559.9,325.6 559.9,323.9 559.9,143.8 562,385.7 562,383.9 562,329.2 562,327.4 562,177.3 564.2,419.2 564.2,417.5 564.2,415.7 564.2,413.9 564.2,412.2 564.2,410.4 564.2,408.6 564.2,406.9 564.2,405.1 564.2,403.3 564.2,401.6 564.2,399.8 564.2,398 564.2,394.5 564.2,391 564.2,389.2 564.2,385.7 564.2,383.9 564.2,382.1 564.2,327.4 564.2,325.6 566.3,433.3 566.3,429.8 566.3,428 566.3,383.9 566.3,378.6 566.3,376.8 566.3,327.4 566.3,325.6 566.3,322.1 566.3,318.6 566.3,117.3 568.4,419.2 568.4,417.5 568.4,412.2 568.4,410.4 568.4,408.6 568.4,406.9 568.4,405.1 568.4,403.3 568.4,401.6 568.4,399.8 568.4,398 568.4,396.3 568.4,394.5 568.4,392.7 568.4,391 568.4,389.2 568.4,387.4 568.4,382.1 568.4,380.4 568.4,378.6 568.4,329.2 568.4,325.6 568.4,323.9 570.5,389.2 570.5,385.7 570.5,383.9 570.5,382.1 570.5,325.6 570.5,323.9 570.5,120.8 572.6,385.7 572.6,383.9 572.6,382.1 572.6,330.9 572.6,329.2 572.6,133.2 574.7,463.4 574.7,419.2 574.7,417.5 574.7,415.7 574.7,413.9 574.7,412.2 574.7,410.4 574.7,408.6 574.7,406.9 574.7,405.1 574.7,403.3 574.7,401.6 574.7,399.8 574.7,398 574.7,396.3 574.7,394.5 574.7,391 574.7,389.2 574.7,387.4 574.7,334.5 574.7,138.5 576.8,445.7 576.8,387.4 576.8,385.7 576.8,383.9 576.8,382.1 576.8,330.9 576.8,147.3 578.9,461.6 578.9,451 578.9,442.2 578.9,424.5 578.9,419.2 578.9,415.7 578.9,413.9 578.9,412.2 578.9,410.4 578.9,406.9 578.9,405.1 578.9,403.3 578.9,401.6 578.9,399.8 578.9,398 578.9,396.3 578.9,392.7 578.9,391 578.9,389.2 578.9,387.4 578.9,330.9 578.9,327.4 578.9,318.6 578.9,225 581,461.6 581,451 581,436.9 581,429.8 581,392.7 581,391 581,389.2 581,387.4 581,332.7 581,330.9 581,329.2 581,165 583.1,465.1 583.1,458.1 583.1,454.5 583.1,445.7 583.1,438.6 583.1,391 583.1,387.4 583.1,345.1 583.1,343.3 583.1,336.2 583.1,325.6 583.1,285 583.1,177.3 585.3,383.9 585.3,341.5 585.3,339.8 585.3,184.4 587.4,392.7 587.4,391 587.4,389.2 587.4,348.6 587.4,179.1 589.5,396.3 589.5,394.5 589.5,392.7 589.5,341.5 589.5,334.5 589.5,191.5 591.6,396.3 591.6,394.5 591.6,350.4 591.6,348.6 591.6,345.1 591.6,341.5 591.6,165 593.7,461.6 593.7,428 593.7,424.5 593.7,422.7 593.7,417.5 593.7,415.7 593.7,413.9 593.7,412.2 593.7,410.4 593.7,408.6 593.7,406.9 593.7,405.1 593.7,403.3 593.7,401.6 593.7,399.8 593.7,398 593.7,396.3 593.7,348.6 593.7,346.8 593.7,339.8 593.7,232.1 593.7,225 595.8,465.1 595.8,428 595.8,426.3 595.8,424.5 595.8,422.7 595.8,421 595.8,419.2 595.8,417.5 595.8,415.7 595.8,413.9 595.8,412.2 595.8,410.4 595.8,408.6 595.8,406.9 595.8,405.1 595.8,403.3 595.8,313.3 595.8,311.5 595.8,235.6 597.9,403.3 597.9,401.6 597.9,399.8 597.9,318.6 597.9,316.8 597.9,304.5 597.9,170.3 600,406.9 600,401.6 600,399.8 600,316.8 600,315 600,311.5 600,309.7 600,308 600,306.2 600,304.5 600,129.7 602.1,382.1 602.1,380.4 602.1,378.6 602.1,327.4 602.1,325.6 602.1,320.3 602.1,165 604.2,394.5 604.2,332.7 604.2,330.9 604.2,299.2 604.2,127.9 606.4,419.2 606.4,417.5 606.4,413.9 606.4,410.4 606.4,408.6 606.4,406.9 606.4,403.3 606.4,401.6 606.4,399.8 606.4,398 606.4,394.5 606.4,392.7 606.4,391 606.4,389.2 606.4,387.4 606.4,385.7 606.4,383.9 606.4,313.3 606.4,311.5 606.4,309.7 606.4,299.2 606.4,191.5 608.5,389.2 608.5,387.4 608.5,385.7 608.5,313.3 608.5,161.4 610.6,424.5 610.6,421 610.6,419.2 610.6,417.5 610.6,415.7 610.6,413.9 610.6,410.4 610.6,408.6 610.6,406.9 610.6,405.1 610.6,401.6 610.6,398 610.6,396.3 610.6,394.5 610.6,391 610.6,329.2 610.6,327.4 610.6,323.9 610.6,322.1 610.6,157.9 612.7,385.7 612.7,327.4 612.7,325.6 614.8,391 614.8,389.2 614.8,385.7 614.8,383.9 614.8,329.2 614.8,327.4 614.8,140.2 616.9,387.4 616.9,385.7 616.9,329.2 616.9,327.4 616.9,325.6 616.9,163.2 619,449.2 619,435.1 619,426.3 619,339.8 619,336.2 619,149.1 621.1,442.2 621.1,440.4 621.1,438.6 621.1,343.3 621.1,332.7 623.2,440.4 623.2,438.6 623.2,339.8 623.2,338 623.2,336.2 625.3,421 625.3,339.8 625.3,338 625.3,336.2 625.3,248 627.5,424.5 627.5,422.7 627.5,341.5 627.5,339.8 627.5,338 627.5,336.2 627.5,334.5 627.5,332.7 629.6,433.3 629.6,389.2 629.6,387.4 629.6,385.7 629.6,262.1 631.7,433.3 631.7,431.6 631.7,429.8 631.7,391 631.7,389.2 631.7,387.4 631.7,385.7 633.8,433.3 633.8,431.6 633.8,382.1 633.8,380.4 633.8,378.6 633.8,246.2 635.9,431.6 635.9,429.8 635.9,428 635.9,383.9 635.9,382.1 635.9,380.4 635.9,240.9 638,421 638,417.5 638,378.6 638,376.8 638,274.4 640.1,431.6 640.1,429.8 640.1,428 640.1,378.6 640.1,376.8 640.1,375.1 640.1,223.2 642.2,431.6 642.2,429.8 642.2,383.9 642.2,382.1 642.2,216.2 644.3,378.6 644.3,376.8 644.3,373.3 644.3,233.8 646.5,428 646.5,424.5 646.5,422.7 646.5,380.4 646.5,286.8 648.6,424.5 648.6,380.4 648.6,378.6 648.6,237.4 650.7,429.8 650.7,428 650.7,424.5 650.7,380.4 650.7,378.6 650.7,375.1 650.7,371.5 652.8,428 652.8,383.9 652.8,382.1 652.8,376.8 652.8,375.1 652.8,237.4 654.9,443.9 654.9,376.8 654.9,256.8 657,447.5 657,445.7 657,443.9 657,398 657,394.5 657,387.4 657,375.1 657,327.4 657,293.9 659.1,449.2 659.1,447.5 659.1,445.7 659.1,398 659.1,396.3 661.2,445.7 661.2,442.2 661.2,440.4 661.2,438.6 661.2,433.3 661.2,429.8 661.2,428 661.2,398 661.2,396.3 661.2,394.5 661.2,267.4 663.3,433.3 663.3,398 663.3,396.3 663.3,394.5 663.3,276.2 665.4,435.1 665.4,433.3 665.4,396.3 665.4,281.5 667.5,426.3 667.5,424.5 667.5,399.8 667.5,398 669.7,438.6 669.7,436.9 669.7,385.7 669.7,383.9 671.8,442.2 671.8,438.6 671.8,382.1 671.8,380.4 673.9,387.4 673.9,385.7 673.9,383.9 676,459.8 676,443.9 676,440.4 676,383.9 676,382.1 676,300.9 678.1,435.1 678.1,433.3 678.1,382.1 678.1,380.4 680.2,433.3 680.2,431.6 680.2,383.9 680.2,382.1 680.2,380.4 680.2,297.4 682.3,433.3 682.3,429.8 682.3,428 682.3,382.1 682.3,380.4 682.3,262.1 682.3,253.2 684.4,433.3 684.4,431.6 684.4,429.8 684.4,378.6 684.4,376.8 684.4,375.1 684.4,248 686.5,426.3 686.5,424.5 686.5,378.6 686.5,376.8 686.5,371.5 686.5,242.7 688.6,433.3 688.6,431.6 688.6,429.8 688.6,382.1 688.6,380.4 688.6,237.4 690.8,421 690.8,419.2 690.8,371.5 690.8,369.8 690.8,361 690.8,258.5 692.9,433.3 692.9,431.6 692.9,371.5 692.9,353.9 692.9,262.1 692.9,258.5 695,428 695,426.3 695,375.1 695,373.3 695,246.2 697.1,456.3 697.1,424.5 697.1,422.7 697.1,375.1 697.1,239.1 699.2,429.8 699.2,428 699.2,383.9 699.2,382.1 699.2,378.6 699.2,359.2 699.2,283.3 701.3,428 701.3,424.5 701.3,422.7 701.3,380.4 701.3,378.6 701.3,357.4 701.3,270.9 701.3,265.6 701.3,240.9 703.4,431.6 703.4,426.3 703.4,424.5 703.4,376.8 703.4,375.1 703.4,260.3 705.5,465.1 705.5,431.6 705.5,426.3 705.5,378.6 705.5,376.8 705.5,375.1 705.5,366.2 705.5,255 707.6,442.2 707.6,440.4 707.6,380.4 707.6,376.8 707.6,375.1 707.6,248 709.8,442.2 709.8,438.6 709.8,436.9 709.8,391 709.8,389.2 709.8,387.4 709.8,302.7 711.9,428 711.9,422.7 711.9,421 711.9,383.9 711.9,382.1 711.9,380.4 711.9,274.4 714,426.3 714,424.5 714,389.2 714,387.4 714,262.1 716.1,426.3 716.1,424.5 716.1,391 716.1,389.2 718.2,424.5 718.2,421 718.2,387.4 718.2,373.3 720.3,433.3 720.3,431.6 720.3,429.8 720.3,428 720.3,375.1 720.3,373.3 720.3,371.5 720.3,369.8 722.4,429.8 722.4,428 722.4,426.3 722.4,375.1 722.4,373.3 722.4,270.9 724.5,426.3 724.5,424.5 724.5,373.3 724.5,371.5 724.5,369.8 724.5,122.6 726.6,463.4 726.6,421 726.6,419.2 726.6,369.8 726.6,368 726.6,230.3 728.7,422.7 728.7,421 728.7,419.2 728.7,364.5 728.7,355.7 728.7,279.7 730.8,428 730.8,424.5 730.8,364.5 730.8,362.7 730.8,361 730.8,359.2 730.8,357.4 730.8,355.7 730.8,353.9 730.8,228.5 730.8,202 733,433.3 733,431.6 733,429.8 733,366.2 733,364.5 733,362.7 733,359.2 735.1,355.7 735.1,239.1 737.2,417.5 737.2,415.7 737.2,353.9 737.2,352.1 737.2,346.8 737.2,175.6 739.3,428 739.3,419.2 739.3,417.5 739.3,415.7 739.3,355.7 739.3,348.6 739.3,311.5 739.3,214.4 741.4,422.7 741.4,415.7 741.4,362.7 741.4,361 741.4,205.6 743.5,429.8 743.5,428 743.5,364.5 743.5,362.7 743.5,355.7 743.5,353.9 743.5,189.7 745.6,431.6 745.6,429.8 745.6,428 745.6,357.4 745.6,276.2 747.7,417.5 747.7,378.6 747.7,376.8 747.7,216.2 749.8,413.9 749.8,412.2 749.8,380.4 749.8,378.6 752,422.7 752,419.2 752,417.5 752,366.2 752,364.5 754.1,426.3 754.1,424.5 754.1,364.5 754.1,362.7 756.2,419.2 756.2,417.5 756.2,415.7 756.2,380.4 756.2,378.6 756.2,357.4 756.2,248 758.3,417.5 758.3,412.2 758.3,375.1 758.3,373.3 758.3,371.5 760.4,424.5 760.4,422.7 760.4,362.7 760.4,361 760.4,359.2 760.4,233.8 762.5,421 762.5,419.2 762.5,359.2 762.5,357.4 762.5,350.4 762.5,249.7 764.6,421 764.6,383.9 764.6,382.1 766.7,424.5 766.7,419.2 766.7,385.7 766.7,383.9 766.7,382.1 766.7,380.4 766.7,376.8 766.7,375.1 768.8,419.2 768.8,417.5 768.8,383.9 768.8,382.1 768.8,380.4 768.8,233.8 770.9,410.4 770.9,408.6 770.9,391 770.9,389.2 770.9,385.7 770.9,235.6 773,436.9 773,435.1 773,385.7 773,383.9 773,246.2 775.2,433.3 775.2,429.8 775.2,375.1 775.2,371.5 775.2,368 775.2,350.4 775.2,223.2 777.3,466.9 777.3,461.6 777.3,454.5 777.3,426.3 777.3,422.7 777.3,421 777.3,419.2 777.3,375.1 777.3,373.3 777.3,371.5 777.3,369.8 777.3,366.2 777.3,364.5 777.3,357.4 777.3,343.3 777.3,253.2 779.4,429.8 779.4,426.3 779.4,424.5 779.4,373.3 779.4,371.5 779.4,369.8"/>
</g>
</svg>
</body></html>
